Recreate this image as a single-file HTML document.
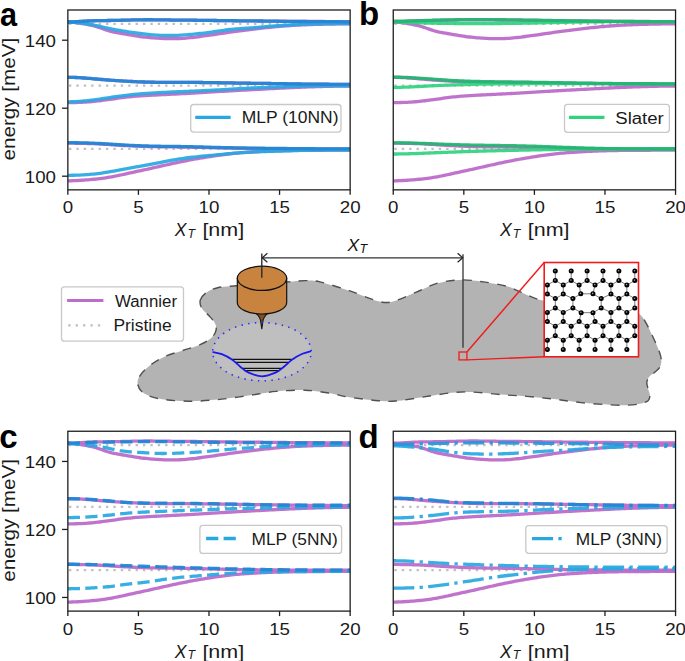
<!DOCTYPE html><html><head><meta charset="utf-8"><style>html,body{margin:0;padding:0;background:#fff;overflow:hidden;}svg{display:block;}.tk{font-family:"Liberation Sans", sans-serif;font-size:15.6px;fill:#1a1a1a;} .al{font-family:"Liberation Sans", sans-serif;font-size:17.6px;fill:#1a1a1a;} .lg{font-family:"Liberation Sans", sans-serif;font-size:15.6px;fill:#1a1a1a;} .pl{font-family:"Liberation Sans", sans-serif;font-size:33px;font-weight:bold;fill:#000;} .dg{font-family:"Liberation Sans", sans-serif;font-size:16.5px;fill:#111;}</style></head><body>
<svg width="685" height="661" viewBox="0 0 685 661">
<defs><clipPath id="ca"><rect x="67.85" y="10.00" width="282.30" height="179.85"/></clipPath></defs>
<rect width="685" height="661" fill="#fff"/>
<g transform="translate(0.00,0.00)">
<g clip-path="url(#ca)">
<line x1="67.85" y1="23.90" x2="350.15" y2="23.90" stroke="#c0c0c0" stroke-width="2.4" stroke-dasharray="2.4 5.0" stroke-dashoffset="-1.1"/>
<line x1="67.85" y1="85.60" x2="350.15" y2="85.60" stroke="#c0c0c0" stroke-width="2.4" stroke-dasharray="2.4 5.0" stroke-dashoffset="-1.1"/>
<line x1="67.85" y1="148.90" x2="350.15" y2="148.90" stroke="#c0c0c0" stroke-width="2.4" stroke-dasharray="2.4 5.0" stroke-dashoffset="-1.1"/>
<path d="M67.8,22.00L69.9,21.98L71.9,21.93L73.9,21.85L75.9,21.75L77.9,21.63L79.9,21.51L81.9,21.37L83.9,21.24L85.9,21.11L87.9,21.00L89.9,20.90L91.9,20.82L93.9,20.75L95.9,20.69L97.9,20.65L99.9,20.61L101.9,20.58L103.9,20.55L105.9,20.53L107.9,20.51L109.9,20.49L111.9,20.46L113.9,20.43L115.9,20.40L117.9,20.36L119.9,20.31L121.9,20.26L123.9,20.20L125.9,20.14L127.9,20.09L129.9,20.03L131.9,19.97L133.9,19.92L135.9,19.87L137.9,19.83L139.9,19.80L141.9,19.78L143.9,19.76L145.9,19.75L147.9,19.75L149.9,19.76L151.9,19.77L153.9,19.79L155.9,19.81L157.9,19.83L159.9,19.86L161.9,19.89L164.0,19.91L166.0,19.94L168.0,19.97L170.0,20.00L172.0,20.03L174.0,20.05L176.0,20.07L178.0,20.09L180.0,20.11L182.0,20.13L184.0,20.15L186.0,20.17L188.0,20.18L190.0,20.20L192.0,20.22L194.0,20.24L196.0,20.26L198.0,20.28L200.0,20.30L202.0,20.32L204.0,20.35L206.0,20.37L208.0,20.40L210.0,20.43L212.0,20.45L214.0,20.48L216.0,20.51L218.0,20.54L220.0,20.57L222.0,20.59L224.0,20.62L226.0,20.65L228.0,20.67L230.0,20.70L232.0,20.72L234.0,20.75L236.0,20.77L238.0,20.79L240.0,20.81L242.0,20.83L244.0,20.85L246.0,20.87L248.0,20.89L250.0,20.91L252.0,20.92L254.0,20.94L256.0,20.96L258.1,20.98L260.1,21.00L262.1,21.02L264.1,21.04L266.1,21.06L268.1,21.08L270.1,21.10L272.1,21.12L274.1,21.14L276.1,21.16L278.1,21.18L280.1,21.21L282.1,21.23L284.1,21.24L286.1,21.26L288.1,21.28L290.1,21.30L292.1,21.32L294.1,21.33L296.1,21.35L298.1,21.36L300.1,21.38L302.1,21.39L304.1,21.41L306.1,21.42L308.1,21.43L310.1,21.44L312.1,21.46L314.1,21.47L316.1,21.48L318.1,21.49L320.1,21.50L322.1,21.51L324.1,21.52L326.1,21.53L328.1,21.54L330.1,21.55L332.1,21.56L334.1,21.57L336.1,21.57L338.1,21.58L340.1,21.59L342.1,21.59L344.1,21.59L346.1,21.60L348.1,21.60L350.1,21.60" fill="none" stroke="#bc6cc9" stroke-width="3.30" stroke-linejoin="round" stroke-linecap="butt" stroke-opacity="0.95"/>
<path d="M67.8,22.20L69.9,22.23L71.9,22.32L73.9,22.47L75.9,22.66L77.9,22.90L79.9,23.18L81.9,23.50L83.9,23.84L85.9,24.21L87.9,24.60L89.9,25.01L91.9,25.44L93.9,25.93L95.9,26.49L97.9,27.11L99.9,27.78L101.9,28.48L103.9,29.18L105.9,29.86L107.9,30.50L109.9,31.08L111.9,31.59L113.9,32.05L115.9,32.45L117.9,32.82L119.9,33.17L121.9,33.50L123.9,33.83L125.9,34.17L127.9,34.52L129.9,34.87L131.9,35.22L133.9,35.56L135.9,35.89L137.9,36.21L139.9,36.50L141.9,36.77L143.9,37.01L145.9,37.23L147.9,37.43L149.9,37.61L151.9,37.77L153.9,37.93L155.9,38.07L157.9,38.21L159.9,38.33L161.9,38.44L164.0,38.53L166.0,38.61L168.0,38.66L170.0,38.70L172.0,38.71L174.0,38.70L176.0,38.66L178.0,38.60L180.0,38.52L182.0,38.41L184.0,38.28L186.0,38.12L188.0,37.93L190.0,37.73L192.0,37.51L194.0,37.27L196.0,37.02L198.0,36.76L200.0,36.50L202.0,36.23L204.0,35.96L206.0,35.69L208.0,35.41L210.0,35.12L212.0,34.84L214.0,34.55L216.0,34.25L218.0,33.95L220.0,33.65L222.0,33.35L224.0,33.06L226.0,32.76L228.0,32.48L230.0,32.20L232.0,31.93L234.0,31.67L236.0,31.42L238.0,31.17L240.0,30.92L242.0,30.67L244.0,30.43L246.0,30.17L248.0,29.92L250.0,29.66L252.0,29.41L254.0,29.15L256.0,28.90L258.1,28.65L260.1,28.41L262.1,28.18L264.1,27.95L266.1,27.72L268.1,27.51L270.1,27.30L272.1,27.09L274.1,26.90L276.1,26.71L278.1,26.53L280.1,26.36L282.1,26.20L284.1,26.04L286.1,25.89L288.1,25.74L290.1,25.60L292.1,25.47L294.1,25.34L296.1,25.22L298.1,25.11L300.1,25.00L302.1,24.90L304.1,24.81L306.1,24.73L308.1,24.66L310.1,24.59L312.1,24.52L314.1,24.46L316.1,24.40L318.1,24.35L320.1,24.30L322.1,24.25L324.1,24.20L326.1,24.15L328.1,24.11L330.1,24.06L332.1,24.02L334.1,23.98L336.1,23.94L338.1,23.91L340.1,23.88L342.1,23.85L344.1,23.83L346.1,23.81L348.1,23.80L350.1,23.80" fill="none" stroke="#bc6cc9" stroke-width="3.30" stroke-linejoin="round" stroke-linecap="butt" stroke-opacity="0.95"/>
<path d="M67.8,77.30L69.9,77.31L71.9,77.35L73.9,77.41L75.9,77.50L77.9,77.60L79.9,77.72L81.9,77.85L83.9,77.99L85.9,78.15L87.9,78.31L89.9,78.48L91.9,78.65L93.9,78.83L95.9,79.00L97.9,79.17L99.9,79.34L101.9,79.51L103.9,79.67L105.9,79.83L107.9,79.98L109.9,80.14L111.9,80.28L113.9,80.43L115.9,80.57L117.9,80.70L119.9,80.83L121.9,80.96L123.9,81.08L125.9,81.20L127.9,81.31L129.9,81.42L131.9,81.52L133.9,81.61L135.9,81.71L137.9,81.79L139.9,81.87L141.9,81.94L143.9,82.01L145.9,82.07L147.9,82.13L149.9,82.18L151.9,82.23L153.9,82.27L155.9,82.30L157.9,82.33L159.9,82.35L161.9,82.37L164.0,82.38L166.0,82.39L168.0,82.39L170.0,82.40L172.0,82.40L174.0,82.40L176.0,82.40L178.0,82.40L180.0,82.40L182.0,82.40L184.0,82.40L186.0,82.40L188.0,82.41L190.0,82.41L192.0,82.42L194.0,82.44L196.0,82.45L198.0,82.47L200.0,82.49L202.0,82.51L204.0,82.53L206.0,82.56L208.0,82.58L210.0,82.61L212.0,82.64L214.0,82.67L216.0,82.70L218.0,82.73L220.0,82.76L222.0,82.80L224.0,82.83L226.0,82.87L228.0,82.90L230.0,82.94L232.0,82.97L234.0,83.01L236.0,83.04L238.0,83.07L240.0,83.11L242.0,83.14L244.0,83.17L246.0,83.20L248.0,83.23L250.0,83.26L252.0,83.28L254.0,83.31L256.0,83.33L258.1,83.36L260.1,83.38L262.1,83.41L264.1,83.43L266.1,83.46L268.1,83.49L270.1,83.51L272.1,83.54L274.1,83.57L276.1,83.60L278.1,83.63L280.1,83.67L282.1,83.70L284.1,83.73L286.1,83.77L288.1,83.81L290.1,83.84L292.1,83.88L294.1,83.91L296.1,83.95L298.1,83.98L300.1,84.01L302.1,84.04L304.1,84.07L306.1,84.10L308.1,84.12L310.1,84.15L312.1,84.17L314.1,84.19L316.1,84.20L318.1,84.22L320.1,84.23L322.1,84.24L324.1,84.25L326.1,84.26L328.1,84.27L330.1,84.28L332.1,84.28L334.1,84.29L336.1,84.29L338.1,84.29L340.1,84.30L342.1,84.30L344.1,84.30L346.1,84.30L348.1,84.30L350.1,84.30" fill="none" stroke="#bc6cc9" stroke-width="3.30" stroke-linejoin="round" stroke-linecap="butt" stroke-opacity="0.95"/>
<path d="M67.8,102.60L69.9,102.59L71.9,102.58L73.9,102.54L75.9,102.50L77.9,102.44L79.9,102.36L81.9,102.28L83.9,102.17L85.9,102.05L87.9,101.92L89.9,101.76L91.9,101.59L93.9,101.41L95.9,101.20L97.9,100.98L99.9,100.74L101.9,100.48L103.9,100.22L105.9,99.94L107.9,99.66L109.9,99.38L111.9,99.09L113.9,98.80L115.9,98.51L117.9,98.23L119.9,97.96L121.9,97.69L123.9,97.44L125.9,97.20L127.9,96.98L129.9,96.77L131.9,96.57L133.9,96.39L135.9,96.23L137.9,96.07L139.9,95.92L141.9,95.79L143.9,95.66L145.9,95.53L147.9,95.42L149.9,95.31L151.9,95.20L153.9,95.10L155.9,95.00L157.9,94.90L159.9,94.80L161.9,94.71L164.0,94.61L166.0,94.51L168.0,94.42L170.0,94.32L172.0,94.22L174.0,94.12L176.0,94.02L178.0,93.92L180.0,93.82L182.0,93.72L184.0,93.61L186.0,93.50L188.0,93.39L190.0,93.28L192.0,93.16L194.0,93.04L196.0,92.92L198.0,92.80L200.0,92.68L202.0,92.56L204.0,92.43L206.0,92.31L208.0,92.19L210.0,92.07L212.0,91.94L214.0,91.82L216.0,91.70L218.0,91.58L220.0,91.46L222.0,91.34L224.0,91.23L226.0,91.11L228.0,91.00L230.0,90.89L232.0,90.77L234.0,90.66L236.0,90.55L238.0,90.44L240.0,90.33L242.0,90.22L244.0,90.11L246.0,90.00L248.0,89.89L250.0,89.78L252.0,89.67L254.0,89.57L256.0,89.46L258.1,89.35L260.1,89.24L262.1,89.14L264.1,89.03L266.1,88.93L268.1,88.82L270.1,88.71L272.1,88.61L274.1,88.50L276.1,88.40L278.1,88.30L280.1,88.19L282.1,88.09L284.1,87.99L286.1,87.89L288.1,87.79L290.1,87.69L292.1,87.60L294.1,87.50L296.1,87.41L298.1,87.32L300.1,87.24L302.1,87.16L304.1,87.08L306.1,87.00L308.1,86.93L310.1,86.86L312.1,86.79L314.1,86.73L316.1,86.67L318.1,86.61L320.1,86.55L322.1,86.50L324.1,86.45L326.1,86.40L328.1,86.35L330.1,86.30L332.1,86.25L334.1,86.21L336.1,86.17L338.1,86.13L340.1,86.09L342.1,86.06L344.1,86.03L346.1,86.02L348.1,86.00L350.1,86.00" fill="none" stroke="#bc6cc9" stroke-width="3.30" stroke-linejoin="round" stroke-linecap="butt" stroke-opacity="0.95"/>
<path d="M67.8,143.20L69.9,143.20L71.9,143.21L73.9,143.22L75.9,143.24L77.9,143.27L79.9,143.30L81.9,143.34L83.9,143.38L85.9,143.43L87.9,143.49L89.9,143.56L91.9,143.63L93.9,143.71L95.9,143.80L97.9,143.90L99.9,144.00L101.9,144.11L103.9,144.23L105.9,144.35L107.9,144.47L109.9,144.60L111.9,144.73L113.9,144.86L115.9,144.99L117.9,145.12L119.9,145.24L121.9,145.37L123.9,145.49L125.9,145.60L127.9,145.71L129.9,145.81L131.9,145.91L133.9,146.00L135.9,146.09L137.9,146.17L139.9,146.25L141.9,146.32L143.9,146.39L145.9,146.45L147.9,146.51L149.9,146.56L151.9,146.61L153.9,146.66L155.9,146.70L157.9,146.74L159.9,146.77L161.9,146.80L164.0,146.83L166.0,146.85L168.0,146.88L170.0,146.90L172.0,146.92L174.0,146.94L176.0,146.97L178.0,146.99L180.0,147.01L182.0,147.04L184.0,147.07L186.0,147.10L188.0,147.13L190.0,147.17L192.0,147.21L194.0,147.25L196.0,147.30L198.0,147.35L200.0,147.39L202.0,147.44L204.0,147.49L206.0,147.54L208.0,147.60L210.0,147.65L212.0,147.70L214.0,147.75L216.0,147.80L218.0,147.85L220.0,147.90L222.0,147.94L224.0,147.99L226.0,148.03L228.0,148.08L230.0,148.12L232.0,148.16L234.0,148.20L236.0,148.24L238.0,148.27L240.0,148.31L242.0,148.34L244.0,148.37L246.0,148.40L248.0,148.43L250.0,148.45L252.0,148.48L254.0,148.50L256.0,148.52L258.1,148.55L260.1,148.57L262.1,148.58L264.1,148.60L266.1,148.62L268.1,148.64L270.1,148.65L272.1,148.67L274.1,148.68L276.1,148.70L278.1,148.72L280.1,148.73L282.1,148.75L284.1,148.76L286.1,148.77L288.1,148.79L290.1,148.80L292.1,148.82L294.1,148.83L296.1,148.84L298.1,148.86L300.1,148.87L302.1,148.88L304.1,148.89L306.1,148.90L308.1,148.91L310.1,148.92L312.1,148.93L314.1,148.94L316.1,148.94L318.1,148.95L320.1,148.96L322.1,148.96L324.1,148.97L326.1,148.97L328.1,148.98L330.1,148.98L332.1,148.99L334.1,148.99L336.1,148.99L338.1,148.99L340.1,149.00L342.1,149.00L344.1,149.00L346.1,149.00L348.1,149.00L350.1,149.00" fill="none" stroke="#bc6cc9" stroke-width="3.30" stroke-linejoin="round" stroke-linecap="butt" stroke-opacity="0.95"/>
<path d="M67.8,180.80L69.9,180.79L71.9,180.75L73.9,180.69L75.9,180.61L77.9,180.51L79.9,180.40L81.9,180.26L83.9,180.12L85.9,179.97L87.9,179.80L89.9,179.63L91.9,179.44L93.9,179.25L95.9,179.04L97.9,178.82L99.9,178.59L101.9,178.34L103.9,178.07L105.9,177.78L107.9,177.46L109.9,177.13L111.9,176.77L113.9,176.40L115.9,176.00L117.9,175.59L119.9,175.17L121.9,174.74L123.9,174.30L125.9,173.86L127.9,173.42L129.9,172.98L131.9,172.54L133.9,172.10L135.9,171.67L137.9,171.23L139.9,170.80L141.9,170.36L143.9,169.92L145.9,169.49L147.9,169.04L149.9,168.60L151.9,168.15L153.9,167.70L155.9,167.25L157.9,166.80L159.9,166.34L161.9,165.89L164.0,165.44L166.0,164.99L168.0,164.54L170.0,164.10L172.0,163.66L174.0,163.23L176.0,162.80L178.0,162.38L180.0,161.97L182.0,161.56L184.0,161.15L186.0,160.76L188.0,160.37L190.0,159.99L192.0,159.61L194.0,159.25L196.0,158.89L198.0,158.54L200.0,158.19L202.0,157.85L204.0,157.52L206.0,157.19L208.0,156.87L210.0,156.56L212.0,156.25L214.0,155.94L216.0,155.64L218.0,155.35L220.0,155.07L222.0,154.80L224.0,154.53L226.0,154.28L228.0,154.04L230.0,153.81L232.0,153.59L234.0,153.39L236.0,153.20L238.0,153.02L240.0,152.85L242.0,152.69L244.0,152.54L246.0,152.39L248.0,152.26L250.0,152.13L252.0,152.00L254.0,151.88L256.0,151.76L258.1,151.65L260.1,151.54L262.1,151.44L264.1,151.34L266.1,151.25L268.1,151.16L270.1,151.08L272.1,151.00L274.1,150.93L276.1,150.86L278.1,150.80L280.1,150.75L282.1,150.70L284.1,150.65L286.1,150.61L288.1,150.57L290.1,150.53L292.1,150.50L294.1,150.47L296.1,150.45L298.1,150.42L300.1,150.40L302.1,150.38L304.1,150.36L306.1,150.35L308.1,150.33L310.1,150.32L312.1,150.30L314.1,150.29L316.1,150.28L318.1,150.27L320.1,150.26L322.1,150.25L324.1,150.24L326.1,150.22L328.1,150.21L330.1,150.20L332.1,150.19L334.1,150.17L336.1,150.16L338.1,150.15L340.1,150.13L342.1,150.12L344.1,150.11L346.1,150.11L348.1,150.10L350.1,150.10" fill="none" stroke="#bc6cc9" stroke-width="3.30" stroke-linejoin="round" stroke-linecap="butt" stroke-opacity="0.95"/>
<path d="M67.8,22.20L69.9,22.22L71.9,22.29L73.9,22.39L75.9,22.53L77.9,22.70L79.9,22.90L81.9,23.14L83.9,23.40L85.9,23.68L87.9,24.00L89.9,24.34L91.9,24.71L93.9,25.10L95.9,25.51L97.9,25.94L99.9,26.39L101.9,26.84L103.9,27.30L105.9,27.75L107.9,28.19L109.9,28.61L111.9,29.01L113.9,29.40L115.9,29.77L117.9,30.13L119.9,30.47L121.9,30.81L123.9,31.14L125.9,31.46L127.9,31.78L129.9,32.09L131.9,32.39L133.9,32.68L135.9,32.97L137.9,33.24L139.9,33.50L141.9,33.75L143.9,33.98L145.9,34.20L147.9,34.41L149.9,34.60L151.9,34.77L153.9,34.93L155.9,35.07L157.9,35.19L159.9,35.29L161.9,35.37L164.0,35.43L166.0,35.48L168.0,35.50L170.0,35.50L172.0,35.48L174.0,35.44L176.0,35.38L178.0,35.30L180.0,35.21L182.0,35.10L184.0,34.97L186.0,34.83L188.0,34.67L190.0,34.50L192.0,34.32L194.0,34.13L196.0,33.93L198.0,33.72L200.0,33.50L202.0,33.27L204.0,33.04L206.0,32.80L208.0,32.55L210.0,32.29L212.0,32.02L214.0,31.74L216.0,31.45L218.0,31.16L220.0,30.86L222.0,30.56L224.0,30.27L226.0,30.00L228.0,29.74L230.0,29.50L232.0,29.29L234.0,29.10L236.0,28.93L238.0,28.78L240.0,28.63L242.0,28.50L244.0,28.37L246.0,28.23L248.0,28.10L250.0,27.95L252.0,27.81L254.0,27.66L256.0,27.50L258.1,27.34L260.1,27.17L262.1,26.99L264.1,26.82L266.1,26.65L268.1,26.48L270.1,26.31L272.1,26.15L274.1,26.00L276.1,25.86L278.1,25.72L280.1,25.60L282.1,25.48L284.1,25.36L286.1,25.24L288.1,25.12L290.1,25.00L292.1,24.88L294.1,24.75L296.1,24.63L298.1,24.51L300.1,24.40L302.1,24.30L304.1,24.21L306.1,24.13L308.1,24.06L310.1,23.99L312.1,23.94L314.1,23.88L316.1,23.84L318.1,23.80L320.1,23.76L322.1,23.73L324.1,23.70L326.1,23.67L328.1,23.65L330.1,23.62L332.1,23.60L334.1,23.58L336.1,23.56L338.1,23.54L340.1,23.53L342.1,23.52L344.1,23.51L346.1,23.51L348.1,23.50L350.1,23.50" fill="none" stroke="#27a8e1" stroke-width="3.30" stroke-linejoin="round" stroke-linecap="butt" stroke-opacity="0.92"/>
<path d="M67.8,101.80L69.9,101.79L71.9,101.74L73.9,101.68L75.9,101.58L77.9,101.47L79.9,101.33L81.9,101.17L83.9,101.00L85.9,100.80L87.9,100.59L89.9,100.36L91.9,100.12L93.9,99.87L95.9,99.60L97.9,99.32L99.9,99.04L101.9,98.75L103.9,98.45L105.9,98.16L107.9,97.85L109.9,97.55L111.9,97.25L113.9,96.95L115.9,96.66L117.9,96.37L119.9,96.09L121.9,95.81L123.9,95.55L125.9,95.30L127.9,95.06L129.9,94.84L131.9,94.63L133.9,94.42L135.9,94.23L137.9,94.06L139.9,93.89L141.9,93.72L143.9,93.57L145.9,93.43L147.9,93.29L149.9,93.16L151.9,93.03L153.9,92.91L155.9,92.80L157.9,92.69L159.9,92.58L161.9,92.48L164.0,92.38L166.0,92.28L168.0,92.19L170.0,92.09L172.0,92.00L174.0,91.91L176.0,91.83L178.0,91.74L180.0,91.65L182.0,91.57L184.0,91.48L186.0,91.40L188.0,91.32L190.0,91.23L192.0,91.14L194.0,91.06L196.0,90.97L198.0,90.88L200.0,90.79L202.0,90.70L204.0,90.61L206.0,90.51L208.0,90.41L210.0,90.31L212.0,90.21L214.0,90.11L216.0,90.00L218.0,89.89L220.0,89.78L222.0,89.66L224.0,89.54L226.0,89.43L228.0,89.31L230.0,89.19L232.0,89.07L234.0,88.95L236.0,88.84L238.0,88.73L240.0,88.61L242.0,88.51L244.0,88.40L246.0,88.30L248.0,88.20L250.0,88.11L252.0,88.02L254.0,87.94L256.0,87.85L258.1,87.77L260.1,87.70L262.1,87.62L264.1,87.54L266.1,87.47L268.1,87.40L270.1,87.32L272.1,87.25L274.1,87.18L276.1,87.10L278.1,87.02L280.1,86.95L282.1,86.87L284.1,86.79L286.1,86.72L288.1,86.64L290.1,86.57L292.1,86.49L294.1,86.43L296.1,86.36L298.1,86.30L300.1,86.24L302.1,86.19L304.1,86.14L306.1,86.10L308.1,86.06L310.1,86.03L312.1,86.01L314.1,85.99L316.1,85.97L318.1,85.96L320.1,85.95L322.1,85.94L324.1,85.93L326.1,85.92L328.1,85.91L330.1,85.90L332.1,85.89L334.1,85.88L336.1,85.86L338.1,85.85L340.1,85.84L342.1,85.82L344.1,85.81L346.1,85.81L348.1,85.80L350.1,85.80" fill="none" stroke="#27a8e1" stroke-width="3.30" stroke-linejoin="round" stroke-linecap="butt" stroke-opacity="0.92"/>
<path d="M67.8,175.30L69.9,175.29L71.9,175.27L73.9,175.24L75.9,175.19L77.9,175.13L79.9,175.06L81.9,174.96L83.9,174.85L85.9,174.72L87.9,174.58L89.9,174.41L91.9,174.23L93.9,174.02L95.9,173.80L97.9,173.55L99.9,173.29L101.9,173.01L103.9,172.71L105.9,172.39L107.9,172.06L109.9,171.73L111.9,171.38L113.9,171.02L115.9,170.66L117.9,170.29L119.9,169.92L121.9,169.54L123.9,169.17L125.9,168.80L127.9,168.43L129.9,168.07L131.9,167.70L133.9,167.34L135.9,166.98L137.9,166.62L139.9,166.26L141.9,165.90L143.9,165.54L145.9,165.17L147.9,164.81L149.9,164.44L151.9,164.06L153.9,163.68L155.9,163.30L157.9,162.91L159.9,162.52L161.9,162.13L164.0,161.73L166.0,161.34L168.0,160.96L170.0,160.58L172.0,160.22L174.0,159.86L176.0,159.52L178.0,159.19L180.0,158.87L182.0,158.57L184.0,158.28L186.0,158.00L188.0,157.74L190.0,157.49L192.0,157.25L194.0,157.03L196.0,156.81L198.0,156.60L200.0,156.40L202.0,156.20L204.0,156.01L206.0,155.82L208.0,155.64L210.0,155.45L212.0,155.27L214.0,155.09L216.0,154.90L218.0,154.71L220.0,154.52L222.0,154.33L224.0,154.14L226.0,153.95L228.0,153.76L230.0,153.57L232.0,153.39L234.0,153.21L236.0,153.04L238.0,152.87L240.0,152.72L242.0,152.57L244.0,152.43L246.0,152.30L248.0,152.18L250.0,152.08L252.0,151.98L254.0,151.89L256.0,151.81L258.1,151.73L260.1,151.66L262.1,151.60L264.1,151.54L266.1,151.48L268.1,151.43L270.1,151.37L272.1,151.31L274.1,151.26L276.1,151.20L278.1,151.14L280.1,151.08L282.1,151.01L284.1,150.94L286.1,150.88L288.1,150.81L290.1,150.74L292.1,150.68L294.1,150.61L296.1,150.55L298.1,150.49L300.1,150.44L302.1,150.39L304.1,150.34L306.1,150.30L308.1,150.27L310.1,150.24L312.1,150.21L314.1,150.19L316.1,150.17L318.1,150.16L320.1,150.15L322.1,150.14L324.1,150.13L326.1,150.12L328.1,150.11L330.1,150.10L332.1,150.09L334.1,150.08L336.1,150.06L338.1,150.05L340.1,150.04L342.1,150.02L344.1,150.01L346.1,150.01L348.1,150.00L350.1,150.00" fill="none" stroke="#27a8e1" stroke-width="3.30" stroke-linejoin="round" stroke-linecap="butt" stroke-opacity="0.92"/>
<path d="M67.8,22.00L69.9,21.98L71.9,21.93L73.9,21.85L75.9,21.75L77.9,21.63L79.9,21.51L81.9,21.37L83.9,21.24L85.9,21.11L87.9,21.00L89.9,20.90L91.9,20.82L93.9,20.75L95.9,20.69L97.9,20.65L99.9,20.61L101.9,20.58L103.9,20.55L105.9,20.53L107.9,20.51L109.9,20.49L111.9,20.46L113.9,20.43L115.9,20.40L117.9,20.36L119.9,20.31L121.9,20.26L123.9,20.20L125.9,20.14L127.9,20.09L129.9,20.03L131.9,19.97L133.9,19.92L135.9,19.87L137.9,19.83L139.9,19.80L141.9,19.78L143.9,19.76L145.9,19.75L147.9,19.75L149.9,19.76L151.9,19.77L153.9,19.79L155.9,19.81L157.9,19.83L159.9,19.86L161.9,19.89L164.0,19.92L166.0,19.94L168.0,19.97L170.0,20.00L172.0,20.03L174.0,20.05L176.0,20.07L178.0,20.09L180.0,20.11L182.0,20.13L184.0,20.15L186.0,20.17L188.0,20.18L190.0,20.20L192.0,20.22L194.0,20.24L196.0,20.26L198.0,20.28L200.0,20.30L202.0,20.32L204.0,20.35L206.0,20.37L208.0,20.40L210.0,20.43L212.0,20.46L214.0,20.48L216.0,20.51L218.0,20.54L220.0,20.57L222.0,20.60L224.0,20.62L226.0,20.65L228.0,20.68L230.0,20.70L232.0,20.72L234.0,20.74L236.0,20.76L238.0,20.78L240.0,20.80L242.0,20.82L244.0,20.84L246.0,20.86L248.0,20.88L250.0,20.89L252.0,20.91L254.0,20.93L256.0,20.95L258.1,20.98L260.1,21.00L262.1,21.02L264.1,21.05L266.1,21.08L268.1,21.11L270.1,21.13L272.1,21.16L274.1,21.19L276.1,21.22L278.1,21.25L280.1,21.28L282.1,21.31L284.1,21.33L286.1,21.36L288.1,21.38L290.1,21.40L292.1,21.42L294.1,21.44L296.1,21.45L298.1,21.47L300.1,21.48L302.1,21.49L304.1,21.50L306.1,21.52L308.1,21.53L310.1,21.54L312.1,21.55L314.1,21.56L316.1,21.57L318.1,21.59L320.1,21.60L322.1,21.62L324.1,21.63L326.1,21.65L328.1,21.67L330.1,21.69L332.1,21.70L334.1,21.72L336.1,21.74L338.1,21.75L340.1,21.76L342.1,21.78L344.1,21.79L346.1,21.79L348.1,21.80L350.1,21.80" fill="none" stroke="#1d88d6" stroke-width="3.30" stroke-linejoin="round" stroke-linecap="butt" stroke-opacity="0.92"/>
<path d="M67.8,77.30L69.9,77.31L71.9,77.35L73.9,77.41L75.9,77.50L77.9,77.60L79.9,77.72L81.9,77.85L83.9,77.99L85.9,78.15L87.9,78.31L89.9,78.48L91.9,78.65L93.9,78.83L95.9,79.00L97.9,79.17L99.9,79.34L101.9,79.51L103.9,79.67L105.9,79.83L107.9,79.98L109.9,80.14L111.9,80.28L113.9,80.43L115.9,80.57L117.9,80.70L119.9,80.83L121.9,80.96L123.9,81.08L125.9,81.20L127.9,81.31L129.9,81.42L131.9,81.52L133.9,81.61L135.9,81.71L137.9,81.79L139.9,81.87L141.9,81.94L143.9,82.01L145.9,82.07L147.9,82.13L149.9,82.18L151.9,82.23L153.9,82.27L155.9,82.30L157.9,82.33L159.9,82.35L161.9,82.37L164.0,82.38L166.0,82.39L168.0,82.39L170.0,82.40L172.0,82.40L174.0,82.40L176.0,82.40L178.0,82.40L180.0,82.40L182.0,82.40L184.0,82.40L186.0,82.40L188.0,82.41L190.0,82.41L192.0,82.42L194.0,82.44L196.0,82.45L198.0,82.47L200.0,82.49L202.0,82.51L204.0,82.53L206.0,82.56L208.0,82.58L210.0,82.61L212.0,82.64L214.0,82.67L216.0,82.70L218.0,82.73L220.0,82.76L222.0,82.80L224.0,82.83L226.0,82.87L228.0,82.90L230.0,82.94L232.0,82.97L234.0,83.01L236.0,83.04L238.0,83.07L240.0,83.11L242.0,83.14L244.0,83.17L246.0,83.20L248.0,83.23L250.0,83.26L252.0,83.28L254.0,83.31L256.0,83.33L258.1,83.36L260.1,83.38L262.1,83.41L264.1,83.43L266.1,83.46L268.1,83.49L270.1,83.51L272.1,83.54L274.1,83.57L276.1,83.60L278.1,83.63L280.1,83.67L282.1,83.70L284.1,83.73L286.1,83.77L288.1,83.81L290.1,83.84L292.1,83.88L294.1,83.91L296.1,83.95L298.1,83.98L300.1,84.01L302.1,84.04L304.1,84.07L306.1,84.10L308.1,84.12L310.1,84.15L312.1,84.17L314.1,84.19L316.1,84.20L318.1,84.22L320.1,84.23L322.1,84.24L324.1,84.25L326.1,84.26L328.1,84.27L330.1,84.28L332.1,84.28L334.1,84.29L336.1,84.29L338.1,84.29L340.1,84.30L342.1,84.30L344.1,84.30L346.1,84.30L348.1,84.30L350.1,84.30" fill="none" stroke="#1d88d6" stroke-width="3.30" stroke-linejoin="round" stroke-linecap="butt" stroke-opacity="0.92"/>
<path d="M67.8,142.70L69.9,142.70L71.9,142.71L73.9,142.72L75.9,142.74L77.9,142.77L79.9,142.80L81.9,142.84L83.9,142.88L85.9,142.93L87.9,142.99L89.9,143.06L91.9,143.13L93.9,143.21L95.9,143.30L97.9,143.40L99.9,143.50L101.9,143.61L103.9,143.73L105.9,143.85L107.9,143.97L109.9,144.10L111.9,144.23L113.9,144.36L115.9,144.49L117.9,144.62L119.9,144.74L121.9,144.87L123.9,144.98L125.9,145.10L127.9,145.21L129.9,145.31L131.9,145.41L133.9,145.51L135.9,145.59L137.9,145.68L139.9,145.75L141.9,145.83L143.9,145.89L145.9,145.96L147.9,146.01L149.9,146.07L151.9,146.12L153.9,146.16L155.9,146.20L157.9,146.24L159.9,146.27L161.9,146.30L164.0,146.32L166.0,146.35L168.0,146.37L170.0,146.39L172.0,146.41L174.0,146.43L176.0,146.45L178.0,146.48L180.0,146.50L182.0,146.53L184.0,146.56L186.0,146.60L188.0,146.64L190.0,146.68L192.0,146.73L194.0,146.78L196.0,146.83L198.0,146.89L200.0,146.94L202.0,147.00L204.0,147.06L206.0,147.12L208.0,147.18L210.0,147.23L212.0,147.29L214.0,147.35L216.0,147.40L218.0,147.45L220.0,147.50L222.0,147.55L224.0,147.59L226.0,147.64L228.0,147.68L230.0,147.72L232.0,147.76L234.0,147.80L236.0,147.83L238.0,147.87L240.0,147.90L242.0,147.94L244.0,147.97L246.0,148.00L248.0,148.03L250.0,148.06L252.0,148.09L254.0,148.12L256.0,148.15L258.1,148.17L260.1,148.20L262.1,148.23L264.1,148.25L266.1,148.28L268.1,148.30L270.1,148.33L272.1,148.35L274.1,148.38L276.1,148.40L278.1,148.42L280.1,148.45L282.1,148.47L284.1,148.49L286.1,148.51L288.1,148.53L290.1,148.55L292.1,148.57L294.1,148.59L296.1,148.61L298.1,148.63L300.1,148.65L302.1,148.67L304.1,148.68L306.1,148.70L308.1,148.72L310.1,148.73L312.1,148.75L314.1,148.76L316.1,148.78L318.1,148.79L320.1,148.80L322.1,148.81L324.1,148.82L326.1,148.84L328.1,148.85L330.1,148.85L332.1,148.86L334.1,148.87L336.1,148.88L338.1,148.88L340.1,148.89L342.1,148.89L344.1,148.90L346.1,148.90L348.1,148.90L350.1,148.90" fill="none" stroke="#1d88d6" stroke-width="3.30" stroke-linejoin="round" stroke-linecap="butt" stroke-opacity="0.92"/>
</g>
<rect x="67.85" y="10.00" width="282.30" height="179.85" fill="none" stroke="#1e1e1e" stroke-width="1.3"/>
<line x1="67.85" y1="189.85" x2="67.85" y2="194.85" stroke="#1e1e1e" stroke-width="1.3"/>
<line x1="138.42" y1="189.85" x2="138.42" y2="194.85" stroke="#1e1e1e" stroke-width="1.3"/>
<line x1="209.00" y1="189.85" x2="209.00" y2="194.85" stroke="#1e1e1e" stroke-width="1.3"/>
<line x1="279.57" y1="189.85" x2="279.57" y2="194.85" stroke="#1e1e1e" stroke-width="1.3"/>
<line x1="350.15" y1="189.85" x2="350.15" y2="194.85" stroke="#1e1e1e" stroke-width="1.3"/>
<line x1="62.05" y1="176.20" x2="67.85" y2="176.20" stroke="#1e1e1e" stroke-width="1.3"/>
<line x1="62.05" y1="108.20" x2="67.85" y2="108.20" stroke="#1e1e1e" stroke-width="1.3"/>
<line x1="62.05" y1="40.20" x2="67.85" y2="40.20" stroke="#1e1e1e" stroke-width="1.3"/>
<text transform="translate(67.85,213.4) scale(1.200,1)" text-anchor="middle" class="tk">0</text>
<text transform="translate(138.42,213.4) scale(1.200,1)" text-anchor="middle" class="tk">5</text>
<text transform="translate(209.00,213.4) scale(1.200,1)" text-anchor="middle" class="tk">10</text>
<text transform="translate(279.57,213.4) scale(1.200,1)" text-anchor="middle" class="tk">15</text>
<text transform="translate(350.15,213.4) scale(1.200,1)" text-anchor="middle" class="tk">20</text>
<text x="174.70" y="236.4" class="al" style="font-style:italic">X</text>
<text x="187.40" y="238.1" class="al" style="font-style:italic;font-size:12.4px">T</text>
<text transform="translate(202.40,236.4) scale(1.22,1)" class="al">[nm]</text>
</g>
<g transform="translate(325.40,0.00)">
<g clip-path="url(#ca)">
<line x1="67.85" y1="23.90" x2="350.15" y2="23.90" stroke="#c0c0c0" stroke-width="2.4" stroke-dasharray="2.4 5.0" stroke-dashoffset="-1.1"/>
<line x1="67.85" y1="85.60" x2="350.15" y2="85.60" stroke="#c0c0c0" stroke-width="2.4" stroke-dasharray="2.4 5.0" stroke-dashoffset="-1.1"/>
<line x1="67.85" y1="148.90" x2="350.15" y2="148.90" stroke="#c0c0c0" stroke-width="2.4" stroke-dasharray="2.4 5.0" stroke-dashoffset="-1.1"/>
<path d="M67.8,22.00L69.9,21.98L71.9,21.93L73.9,21.85L75.9,21.75L77.9,21.63L79.9,21.51L81.9,21.37L83.9,21.24L85.9,21.11L87.9,21.00L89.9,20.90L91.9,20.82L93.9,20.75L95.9,20.69L97.9,20.65L99.9,20.61L101.9,20.58L103.9,20.55L105.9,20.53L107.9,20.51L109.9,20.49L111.9,20.46L113.9,20.43L115.9,20.40L117.9,20.36L119.9,20.31L121.9,20.26L123.9,20.20L125.9,20.14L127.9,20.09L129.9,20.03L131.9,19.97L133.9,19.92L135.9,19.87L137.9,19.83L139.9,19.80L141.9,19.78L143.9,19.76L145.9,19.75L147.9,19.75L149.9,19.76L151.9,19.77L153.9,19.79L155.9,19.81L157.9,19.83L159.9,19.86L161.9,19.89L164.0,19.91L166.0,19.94L168.0,19.97L170.0,20.00L172.0,20.03L174.0,20.05L176.0,20.07L178.0,20.09L180.0,20.11L182.0,20.13L184.0,20.15L186.0,20.17L188.0,20.18L190.0,20.20L192.0,20.22L194.0,20.24L196.0,20.26L198.0,20.28L200.0,20.30L202.0,20.32L204.0,20.35L206.0,20.37L208.0,20.40L210.0,20.43L212.0,20.45L214.0,20.48L216.0,20.51L218.0,20.54L220.0,20.57L222.0,20.59L224.0,20.62L226.0,20.65L228.0,20.67L230.0,20.70L232.0,20.72L234.0,20.75L236.0,20.77L238.0,20.79L240.0,20.81L242.0,20.83L244.0,20.85L246.0,20.87L248.0,20.89L250.0,20.91L252.0,20.92L254.0,20.94L256.0,20.96L258.1,20.98L260.1,21.00L262.1,21.02L264.1,21.04L266.1,21.06L268.1,21.08L270.1,21.10L272.1,21.12L274.1,21.14L276.1,21.16L278.1,21.18L280.1,21.21L282.1,21.23L284.1,21.24L286.1,21.26L288.1,21.28L290.1,21.30L292.1,21.32L294.1,21.33L296.1,21.35L298.1,21.36L300.1,21.38L302.1,21.39L304.1,21.41L306.1,21.42L308.1,21.43L310.1,21.44L312.1,21.46L314.1,21.47L316.1,21.48L318.1,21.49L320.1,21.50L322.1,21.51L324.1,21.52L326.1,21.53L328.1,21.54L330.1,21.55L332.1,21.56L334.1,21.57L336.1,21.57L338.1,21.58L340.1,21.59L342.1,21.59L344.1,21.59L346.1,21.60L348.1,21.60L350.1,21.60" fill="none" stroke="#bc6cc9" stroke-width="3.30" stroke-linejoin="round" stroke-linecap="butt" stroke-opacity="0.95"/>
<path d="M67.8,22.20L69.9,22.23L71.9,22.32L73.9,22.47L75.9,22.66L77.9,22.90L79.9,23.18L81.9,23.50L83.9,23.84L85.9,24.21L87.9,24.60L89.9,25.01L91.9,25.44L93.9,25.93L95.9,26.49L97.9,27.11L99.9,27.78L101.9,28.48L103.9,29.18L105.9,29.86L107.9,30.50L109.9,31.08L111.9,31.59L113.9,32.05L115.9,32.45L117.9,32.82L119.9,33.17L121.9,33.50L123.9,33.83L125.9,34.17L127.9,34.52L129.9,34.87L131.9,35.22L133.9,35.56L135.9,35.89L137.9,36.21L139.9,36.50L141.9,36.77L143.9,37.01L145.9,37.23L147.9,37.43L149.9,37.61L151.9,37.77L153.9,37.93L155.9,38.07L157.9,38.21L159.9,38.33L161.9,38.44L164.0,38.53L166.0,38.61L168.0,38.66L170.0,38.70L172.0,38.71L174.0,38.70L176.0,38.66L178.0,38.60L180.0,38.52L182.0,38.41L184.0,38.28L186.0,38.12L188.0,37.93L190.0,37.73L192.0,37.51L194.0,37.27L196.0,37.02L198.0,36.76L200.0,36.50L202.0,36.23L204.0,35.96L206.0,35.69L208.0,35.41L210.0,35.12L212.0,34.84L214.0,34.55L216.0,34.25L218.0,33.95L220.0,33.65L222.0,33.35L224.0,33.06L226.0,32.76L228.0,32.48L230.0,32.20L232.0,31.93L234.0,31.67L236.0,31.42L238.0,31.17L240.0,30.92L242.0,30.67L244.0,30.43L246.0,30.17L248.0,29.92L250.0,29.66L252.0,29.41L254.0,29.15L256.0,28.90L258.1,28.65L260.1,28.41L262.1,28.18L264.1,27.95L266.1,27.72L268.1,27.51L270.1,27.30L272.1,27.09L274.1,26.90L276.1,26.71L278.1,26.53L280.1,26.36L282.1,26.20L284.1,26.04L286.1,25.89L288.1,25.74L290.1,25.60L292.1,25.47L294.1,25.34L296.1,25.22L298.1,25.11L300.1,25.00L302.1,24.90L304.1,24.81L306.1,24.73L308.1,24.66L310.1,24.59L312.1,24.52L314.1,24.46L316.1,24.40L318.1,24.35L320.1,24.30L322.1,24.25L324.1,24.20L326.1,24.15L328.1,24.11L330.1,24.06L332.1,24.02L334.1,23.98L336.1,23.94L338.1,23.91L340.1,23.88L342.1,23.85L344.1,23.83L346.1,23.81L348.1,23.80L350.1,23.80" fill="none" stroke="#bc6cc9" stroke-width="3.30" stroke-linejoin="round" stroke-linecap="butt" stroke-opacity="0.95"/>
<path d="M67.8,77.30L69.9,77.31L71.9,77.35L73.9,77.41L75.9,77.50L77.9,77.60L79.9,77.72L81.9,77.85L83.9,77.99L85.9,78.15L87.9,78.31L89.9,78.48L91.9,78.65L93.9,78.83L95.9,79.00L97.9,79.17L99.9,79.34L101.9,79.51L103.9,79.67L105.9,79.83L107.9,79.98L109.9,80.14L111.9,80.28L113.9,80.43L115.9,80.57L117.9,80.70L119.9,80.83L121.9,80.96L123.9,81.08L125.9,81.20L127.9,81.31L129.9,81.42L131.9,81.52L133.9,81.61L135.9,81.71L137.9,81.79L139.9,81.87L141.9,81.94L143.9,82.01L145.9,82.07L147.9,82.13L149.9,82.18L151.9,82.23L153.9,82.27L155.9,82.30L157.9,82.33L159.9,82.35L161.9,82.37L164.0,82.38L166.0,82.39L168.0,82.39L170.0,82.40L172.0,82.40L174.0,82.40L176.0,82.40L178.0,82.40L180.0,82.40L182.0,82.40L184.0,82.40L186.0,82.40L188.0,82.41L190.0,82.41L192.0,82.42L194.0,82.44L196.0,82.45L198.0,82.47L200.0,82.49L202.0,82.51L204.0,82.53L206.0,82.56L208.0,82.58L210.0,82.61L212.0,82.64L214.0,82.67L216.0,82.70L218.0,82.73L220.0,82.76L222.0,82.80L224.0,82.83L226.0,82.87L228.0,82.90L230.0,82.94L232.0,82.97L234.0,83.01L236.0,83.04L238.0,83.07L240.0,83.11L242.0,83.14L244.0,83.17L246.0,83.20L248.0,83.23L250.0,83.26L252.0,83.28L254.0,83.31L256.0,83.33L258.1,83.36L260.1,83.38L262.1,83.41L264.1,83.43L266.1,83.46L268.1,83.49L270.1,83.51L272.1,83.54L274.1,83.57L276.1,83.60L278.1,83.63L280.1,83.67L282.1,83.70L284.1,83.73L286.1,83.77L288.1,83.81L290.1,83.84L292.1,83.88L294.1,83.91L296.1,83.95L298.1,83.98L300.1,84.01L302.1,84.04L304.1,84.07L306.1,84.10L308.1,84.12L310.1,84.15L312.1,84.17L314.1,84.19L316.1,84.20L318.1,84.22L320.1,84.23L322.1,84.24L324.1,84.25L326.1,84.26L328.1,84.27L330.1,84.28L332.1,84.28L334.1,84.29L336.1,84.29L338.1,84.29L340.1,84.30L342.1,84.30L344.1,84.30L346.1,84.30L348.1,84.30L350.1,84.30" fill="none" stroke="#bc6cc9" stroke-width="3.30" stroke-linejoin="round" stroke-linecap="butt" stroke-opacity="0.95"/>
<path d="M67.8,102.60L69.9,102.59L71.9,102.58L73.9,102.54L75.9,102.50L77.9,102.44L79.9,102.36L81.9,102.28L83.9,102.17L85.9,102.05L87.9,101.92L89.9,101.76L91.9,101.59L93.9,101.41L95.9,101.20L97.9,100.98L99.9,100.74L101.9,100.48L103.9,100.22L105.9,99.94L107.9,99.66L109.9,99.38L111.9,99.09L113.9,98.80L115.9,98.51L117.9,98.23L119.9,97.96L121.9,97.69L123.9,97.44L125.9,97.20L127.9,96.98L129.9,96.77L131.9,96.57L133.9,96.39L135.9,96.23L137.9,96.07L139.9,95.92L141.9,95.79L143.9,95.66L145.9,95.53L147.9,95.42L149.9,95.31L151.9,95.20L153.9,95.10L155.9,95.00L157.9,94.90L159.9,94.80L161.9,94.71L164.0,94.61L166.0,94.51L168.0,94.42L170.0,94.32L172.0,94.22L174.0,94.12L176.0,94.02L178.0,93.92L180.0,93.82L182.0,93.72L184.0,93.61L186.0,93.50L188.0,93.39L190.0,93.28L192.0,93.16L194.0,93.04L196.0,92.92L198.0,92.80L200.0,92.68L202.0,92.56L204.0,92.43L206.0,92.31L208.0,92.19L210.0,92.07L212.0,91.94L214.0,91.82L216.0,91.70L218.0,91.58L220.0,91.46L222.0,91.34L224.0,91.23L226.0,91.11L228.0,91.00L230.0,90.89L232.0,90.77L234.0,90.66L236.0,90.55L238.0,90.44L240.0,90.33L242.0,90.22L244.0,90.11L246.0,90.00L248.0,89.89L250.0,89.78L252.0,89.67L254.0,89.57L256.0,89.46L258.1,89.35L260.1,89.24L262.1,89.14L264.1,89.03L266.1,88.93L268.1,88.82L270.1,88.71L272.1,88.61L274.1,88.50L276.1,88.40L278.1,88.30L280.1,88.19L282.1,88.09L284.1,87.99L286.1,87.89L288.1,87.79L290.1,87.69L292.1,87.60L294.1,87.50L296.1,87.41L298.1,87.32L300.1,87.24L302.1,87.16L304.1,87.08L306.1,87.00L308.1,86.93L310.1,86.86L312.1,86.79L314.1,86.73L316.1,86.67L318.1,86.61L320.1,86.55L322.1,86.50L324.1,86.45L326.1,86.40L328.1,86.35L330.1,86.30L332.1,86.25L334.1,86.21L336.1,86.17L338.1,86.13L340.1,86.09L342.1,86.06L344.1,86.03L346.1,86.02L348.1,86.00L350.1,86.00" fill="none" stroke="#bc6cc9" stroke-width="3.30" stroke-linejoin="round" stroke-linecap="butt" stroke-opacity="0.95"/>
<path d="M67.8,143.20L69.9,143.20L71.9,143.21L73.9,143.22L75.9,143.24L77.9,143.27L79.9,143.30L81.9,143.34L83.9,143.38L85.9,143.43L87.9,143.49L89.9,143.56L91.9,143.63L93.9,143.71L95.9,143.80L97.9,143.90L99.9,144.00L101.9,144.11L103.9,144.23L105.9,144.35L107.9,144.47L109.9,144.60L111.9,144.73L113.9,144.86L115.9,144.99L117.9,145.12L119.9,145.24L121.9,145.37L123.9,145.49L125.9,145.60L127.9,145.71L129.9,145.81L131.9,145.91L133.9,146.00L135.9,146.09L137.9,146.17L139.9,146.25L141.9,146.32L143.9,146.39L145.9,146.45L147.9,146.51L149.9,146.56L151.9,146.61L153.9,146.66L155.9,146.70L157.9,146.74L159.9,146.77L161.9,146.80L164.0,146.83L166.0,146.85L168.0,146.88L170.0,146.90L172.0,146.92L174.0,146.94L176.0,146.97L178.0,146.99L180.0,147.01L182.0,147.04L184.0,147.07L186.0,147.10L188.0,147.13L190.0,147.17L192.0,147.21L194.0,147.25L196.0,147.30L198.0,147.35L200.0,147.39L202.0,147.44L204.0,147.49L206.0,147.54L208.0,147.60L210.0,147.65L212.0,147.70L214.0,147.75L216.0,147.80L218.0,147.85L220.0,147.90L222.0,147.94L224.0,147.99L226.0,148.03L228.0,148.08L230.0,148.12L232.0,148.16L234.0,148.20L236.0,148.24L238.0,148.27L240.0,148.31L242.0,148.34L244.0,148.37L246.0,148.40L248.0,148.43L250.0,148.45L252.0,148.48L254.0,148.50L256.0,148.52L258.1,148.55L260.1,148.57L262.1,148.58L264.1,148.60L266.1,148.62L268.1,148.64L270.1,148.65L272.1,148.67L274.1,148.68L276.1,148.70L278.1,148.72L280.1,148.73L282.1,148.75L284.1,148.76L286.1,148.77L288.1,148.79L290.1,148.80L292.1,148.82L294.1,148.83L296.1,148.84L298.1,148.86L300.1,148.87L302.1,148.88L304.1,148.89L306.1,148.90L308.1,148.91L310.1,148.92L312.1,148.93L314.1,148.94L316.1,148.94L318.1,148.95L320.1,148.96L322.1,148.96L324.1,148.97L326.1,148.97L328.1,148.98L330.1,148.98L332.1,148.99L334.1,148.99L336.1,148.99L338.1,148.99L340.1,149.00L342.1,149.00L344.1,149.00L346.1,149.00L348.1,149.00L350.1,149.00" fill="none" stroke="#bc6cc9" stroke-width="3.30" stroke-linejoin="round" stroke-linecap="butt" stroke-opacity="0.95"/>
<path d="M67.8,180.80L69.9,180.79L71.9,180.75L73.9,180.69L75.9,180.61L77.9,180.51L79.9,180.40L81.9,180.26L83.9,180.12L85.9,179.97L87.9,179.80L89.9,179.63L91.9,179.44L93.9,179.25L95.9,179.04L97.9,178.82L99.9,178.59L101.9,178.34L103.9,178.07L105.9,177.78L107.9,177.46L109.9,177.13L111.9,176.77L113.9,176.40L115.9,176.00L117.9,175.59L119.9,175.17L121.9,174.74L123.9,174.30L125.9,173.86L127.9,173.42L129.9,172.98L131.9,172.54L133.9,172.10L135.9,171.67L137.9,171.23L139.9,170.80L141.9,170.36L143.9,169.92L145.9,169.49L147.9,169.04L149.9,168.60L151.9,168.15L153.9,167.70L155.9,167.25L157.9,166.80L159.9,166.34L161.9,165.89L164.0,165.44L166.0,164.99L168.0,164.54L170.0,164.10L172.0,163.66L174.0,163.23L176.0,162.80L178.0,162.38L180.0,161.97L182.0,161.56L184.0,161.15L186.0,160.76L188.0,160.37L190.0,159.99L192.0,159.61L194.0,159.25L196.0,158.89L198.0,158.54L200.0,158.19L202.0,157.85L204.0,157.52L206.0,157.19L208.0,156.87L210.0,156.56L212.0,156.25L214.0,155.94L216.0,155.64L218.0,155.35L220.0,155.07L222.0,154.80L224.0,154.53L226.0,154.28L228.0,154.04L230.0,153.81L232.0,153.59L234.0,153.39L236.0,153.20L238.0,153.02L240.0,152.85L242.0,152.69L244.0,152.54L246.0,152.39L248.0,152.26L250.0,152.13L252.0,152.00L254.0,151.88L256.0,151.76L258.1,151.65L260.1,151.54L262.1,151.44L264.1,151.34L266.1,151.25L268.1,151.16L270.1,151.08L272.1,151.00L274.1,150.93L276.1,150.86L278.1,150.80L280.1,150.75L282.1,150.70L284.1,150.65L286.1,150.61L288.1,150.57L290.1,150.53L292.1,150.50L294.1,150.47L296.1,150.45L298.1,150.42L300.1,150.40L302.1,150.38L304.1,150.36L306.1,150.35L308.1,150.33L310.1,150.32L312.1,150.30L314.1,150.29L316.1,150.28L318.1,150.27L320.1,150.26L322.1,150.25L324.1,150.24L326.1,150.22L328.1,150.21L330.1,150.20L332.1,150.19L334.1,150.17L336.1,150.16L338.1,150.15L340.1,150.13L342.1,150.12L344.1,150.11L346.1,150.11L348.1,150.10L350.1,150.10" fill="none" stroke="#bc6cc9" stroke-width="3.30" stroke-linejoin="round" stroke-linecap="butt" stroke-opacity="0.95"/>
<path d="M67.8,21.80L69.9,21.81L71.9,21.85L73.9,21.91L75.9,21.99L77.9,22.08L79.9,22.18L81.9,22.29L83.9,22.40L85.9,22.50L87.9,22.60L89.9,22.69L91.9,22.77L93.9,22.84L95.9,22.91L97.9,22.97L99.9,23.02L101.9,23.06L103.9,23.11L105.9,23.15L107.9,23.18L109.9,23.22L111.9,23.25L113.9,23.28L115.9,23.31L117.9,23.34L119.9,23.37L121.9,23.40L123.9,23.42L125.9,23.45L127.9,23.47L129.9,23.49L131.9,23.51L133.9,23.52L135.9,23.54L137.9,23.55L139.9,23.57L141.9,23.58L143.9,23.58L145.9,23.59L147.9,23.60L149.9,23.60L151.9,23.60L153.9,23.60L155.9,23.60L157.9,23.59L159.9,23.59L161.9,23.58L164.0,23.57L166.0,23.56L168.0,23.55L170.0,23.54L172.0,23.52L174.0,23.50L176.0,23.48L178.0,23.46L180.0,23.44L182.0,23.42L184.0,23.39L186.0,23.37L188.0,23.34L190.0,23.31L192.0,23.28L194.0,23.25L196.0,23.22L198.0,23.19L200.0,23.15L202.0,23.12L204.0,23.08L206.0,23.04L208.0,23.00L210.0,22.96L212.0,22.92L214.0,22.88L216.0,22.83L218.0,22.79L220.0,22.74L222.0,22.70L224.0,22.66L226.0,22.61L228.0,22.57L230.0,22.52L232.0,22.48L234.0,22.43L236.0,22.39L238.0,22.34L240.0,22.30L242.0,22.26L244.0,22.22L246.0,22.18L248.0,22.14L250.0,22.10L252.0,22.06L254.0,22.02L256.0,21.99L258.1,21.96L260.1,21.92L262.1,21.89L264.1,21.86L266.1,21.84L268.1,21.81L270.1,21.79L272.1,21.77L274.1,21.75L276.1,21.73L278.1,21.71L280.1,21.70L282.1,21.69L284.1,21.67L286.1,21.66L288.1,21.66L290.1,21.65L292.1,21.64L294.1,21.64L296.1,21.63L298.1,21.63L300.1,21.63L302.1,21.63L304.1,21.63L306.1,21.63L308.1,21.63L310.1,21.63L312.1,21.63L314.1,21.64L316.1,21.64L318.1,21.65L320.1,21.65L322.1,21.65L324.1,21.66L326.1,21.66L328.1,21.67L330.1,21.67L332.1,21.68L334.1,21.68L336.1,21.68L338.1,21.69L340.1,21.69L342.1,21.69L344.1,21.70L346.1,21.70L348.1,21.70L350.1,21.70" fill="none" stroke="#30d27f" stroke-width="3.30" stroke-linejoin="round" stroke-linecap="butt" stroke-opacity="0.92"/>
<path d="M67.8,87.40L69.9,87.39L71.9,87.37L73.9,87.33L75.9,87.28L77.9,87.22L79.9,87.15L81.9,87.08L83.9,86.99L85.9,86.90L87.9,86.80L89.9,86.70L91.9,86.60L93.9,86.49L95.9,86.38L97.9,86.27L99.9,86.17L101.9,86.06L103.9,85.95L105.9,85.85L107.9,85.75L109.9,85.65L111.9,85.56L113.9,85.47L115.9,85.39L117.9,85.30L119.9,85.22L121.9,85.15L123.9,85.07L125.9,85.00L127.9,84.93L129.9,84.87L131.9,84.80L133.9,84.74L135.9,84.68L137.9,84.62L139.9,84.56L141.9,84.50L143.9,84.45L145.9,84.40L147.9,84.35L149.9,84.30L151.9,84.26L153.9,84.21L155.9,84.17L157.9,84.14L159.9,84.10L161.9,84.07L164.0,84.03L166.0,84.00L168.0,83.98L170.0,83.95L172.0,83.93L174.0,83.90L176.0,83.88L178.0,83.86L180.0,83.84L182.0,83.83L184.0,83.81L186.0,83.80L188.0,83.78L190.0,83.77L192.0,83.76L194.0,83.75L196.0,83.74L198.0,83.73L200.0,83.72L202.0,83.72L204.0,83.71L206.0,83.71L208.0,83.70L210.0,83.70L212.0,83.69L214.0,83.69L216.0,83.68L218.0,83.68L220.0,83.68L222.0,83.68L224.0,83.67L226.0,83.67L228.0,83.67L230.0,83.67L232.0,83.67L234.0,83.67L236.0,83.67L238.0,83.67L240.0,83.67L242.0,83.67L244.0,83.67L246.0,83.67L248.0,83.67L250.0,83.68L252.0,83.68L254.0,83.68L256.0,83.68L258.1,83.68L260.1,83.69L262.1,83.69L264.1,83.69L266.1,83.70L268.1,83.70L270.1,83.70L272.1,83.70L274.1,83.71L276.1,83.71L278.1,83.71L280.1,83.72L282.1,83.72L284.1,83.72L286.1,83.73L288.1,83.73L290.1,83.73L292.1,83.74L294.1,83.74L296.1,83.74L298.1,83.75L300.1,83.75L302.1,83.75L304.1,83.76L306.1,83.76L308.1,83.76L310.1,83.77L312.1,83.77L314.1,83.77L316.1,83.77L318.1,83.78L320.1,83.78L322.1,83.78L324.1,83.78L326.1,83.79L328.1,83.79L330.1,83.79L332.1,83.79L334.1,83.79L336.1,83.80L338.1,83.80L340.1,83.80L342.1,83.80L344.1,83.80L346.1,83.80L348.1,83.80L350.1,83.80" fill="none" stroke="#30d27f" stroke-width="3.30" stroke-linejoin="round" stroke-linecap="butt" stroke-opacity="0.92"/>
<path d="M67.8,154.00L69.9,154.00L71.9,153.98L73.9,153.96L75.9,153.93L77.9,153.90L79.9,153.86L81.9,153.81L83.9,153.75L85.9,153.69L87.9,153.63L89.9,153.56L91.9,153.49L93.9,153.42L95.9,153.34L97.9,153.26L99.9,153.18L101.9,153.09L103.9,153.01L105.9,152.93L107.9,152.84L109.9,152.76L111.9,152.68L113.9,152.59L115.9,152.51L117.9,152.43L119.9,152.35L121.9,152.28L123.9,152.20L125.9,152.12L127.9,152.05L129.9,151.98L131.9,151.90L133.9,151.83L135.9,151.76L137.9,151.69L139.9,151.62L141.9,151.56L143.9,151.49L145.9,151.43L147.9,151.36L149.9,151.30L151.9,151.24L153.9,151.18L155.9,151.12L157.9,151.06L159.9,151.01L161.9,150.95L164.0,150.90L166.0,150.85L168.0,150.79L170.0,150.74L172.0,150.69L174.0,150.64L176.0,150.60L178.0,150.55L180.0,150.50L182.0,150.46L184.0,150.41L186.0,150.37L188.0,150.32L190.0,150.28L192.0,150.23L194.0,150.19L196.0,150.15L198.0,150.11L200.0,150.06L202.0,150.02L204.0,149.98L206.0,149.94L208.0,149.90L210.0,149.86L212.0,149.82L214.0,149.78L216.0,149.74L218.0,149.70L220.0,149.66L222.0,149.62L224.0,149.58L226.0,149.55L228.0,149.51L230.0,149.48L232.0,149.44L234.0,149.41L236.0,149.38L238.0,149.35L240.0,149.32L242.0,149.29L244.0,149.26L246.0,149.24L248.0,149.21L250.0,149.19L252.0,149.17L254.0,149.15L256.0,149.13L258.1,149.12L260.1,149.10L262.1,149.09L264.1,149.08L266.1,149.07L268.1,149.06L270.1,149.05L272.1,149.04L274.1,149.03L276.1,149.03L278.1,149.02L280.1,149.02L282.1,149.01L284.1,149.01L286.1,149.00L288.1,149.00L290.1,149.00L292.1,149.00L294.1,149.00L296.1,148.99L298.1,148.99L300.1,148.99L302.1,148.99L304.1,148.99L306.1,148.99L308.1,148.99L310.1,148.99L312.1,148.99L314.1,148.99L316.1,148.99L318.1,148.99L320.1,148.99L322.1,148.99L324.1,148.99L326.1,148.99L328.1,148.99L330.1,149.00L332.1,149.00L334.1,149.00L336.1,149.00L338.1,149.00L340.1,149.00L342.1,149.00L344.1,149.00L346.1,149.00L348.1,149.00L350.1,149.00" fill="none" stroke="#30d27f" stroke-width="3.30" stroke-linejoin="round" stroke-linecap="butt" stroke-opacity="0.92"/>
<path d="M67.8,21.20L69.9,21.20L71.9,21.18L73.9,21.16L75.9,21.14L77.9,21.10L79.9,21.06L81.9,21.02L83.9,20.97L85.9,20.92L87.9,20.86L89.9,20.80L91.9,20.74L93.9,20.68L95.9,20.61L97.9,20.55L99.9,20.48L101.9,20.42L103.9,20.35L105.9,20.29L107.9,20.23L109.9,20.17L111.9,20.12L113.9,20.06L115.9,20.02L117.9,19.97L119.9,19.93L121.9,19.89L123.9,19.85L125.9,19.81L127.9,19.78L129.9,19.75L131.9,19.73L133.9,19.70L135.9,19.68L137.9,19.66L139.9,19.65L141.9,19.63L143.9,19.62L145.9,19.61L147.9,19.60L149.9,19.60L151.9,19.60L153.9,19.60L155.9,19.60L157.9,19.61L159.9,19.61L161.9,19.62L164.0,19.63L166.0,19.64L168.0,19.66L170.0,19.67L172.0,19.69L174.0,19.71L176.0,19.73L178.0,19.75L180.0,19.77L182.0,19.80L184.0,19.82L186.0,19.85L188.0,19.88L190.0,19.91L192.0,19.94L194.0,19.97L196.0,20.00L198.0,20.03L200.0,20.06L202.0,20.10L204.0,20.13L206.0,20.17L208.0,20.20L210.0,20.23L212.0,20.27L214.0,20.31L216.0,20.34L218.0,20.38L220.0,20.41L222.0,20.45L224.0,20.48L226.0,20.52L228.0,20.55L230.0,20.59L232.0,20.63L234.0,20.66L236.0,20.70L238.0,20.73L240.0,20.76L242.0,20.80L244.0,20.83L246.0,20.87L248.0,20.90L250.0,20.93L252.0,20.96L254.0,20.99L256.0,21.02L258.1,21.05L260.1,21.08L262.1,21.11L264.1,21.14L266.1,21.16L268.1,21.19L270.1,21.21L272.1,21.24L274.1,21.26L276.1,21.28L278.1,21.30L280.1,21.32L282.1,21.34L284.1,21.36L286.1,21.38L288.1,21.39L290.1,21.41L292.1,21.42L294.1,21.44L296.1,21.45L298.1,21.46L300.1,21.48L302.1,21.49L304.1,21.50L306.1,21.51L308.1,21.52L310.1,21.53L312.1,21.53L314.1,21.54L316.1,21.55L318.1,21.56L320.1,21.56L322.1,21.57L324.1,21.57L326.1,21.58L328.1,21.58L330.1,21.58L332.1,21.59L334.1,21.59L336.1,21.59L338.1,21.59L340.1,21.60L342.1,21.60L344.1,21.60L346.1,21.60L348.1,21.60L350.1,21.60" fill="none" stroke="#1fb670" stroke-width="3.30" stroke-linejoin="round" stroke-linecap="butt" stroke-opacity="0.92"/>
<path d="M67.8,77.20L69.9,77.21L71.9,77.23L73.9,77.26L75.9,77.31L77.9,77.37L79.9,77.43L81.9,77.51L83.9,77.60L85.9,77.70L87.9,77.80L89.9,77.91L91.9,78.03L93.9,78.15L95.9,78.28L97.9,78.41L99.9,78.55L101.9,78.69L103.9,78.83L105.9,78.98L107.9,79.13L109.9,79.28L111.9,79.43L113.9,79.58L115.9,79.73L117.9,79.87L119.9,80.02L121.9,80.16L123.9,80.29L125.9,80.42L127.9,80.54L129.9,80.66L131.9,80.76L133.9,80.85L135.9,80.94L137.9,81.02L139.9,81.10L141.9,81.17L143.9,81.23L145.9,81.29L147.9,81.35L149.9,81.40L151.9,81.45L153.9,81.50L155.9,81.54L157.9,81.59L159.9,81.63L161.9,81.67L164.0,81.70L166.0,81.74L168.0,81.77L170.0,81.80L172.0,81.84L174.0,81.87L176.0,81.89L178.0,81.92L180.0,81.95L182.0,81.97L184.0,82.00L186.0,82.02L188.0,82.05L190.0,82.07L192.0,82.10L194.0,82.12L196.0,82.15L198.0,82.17L200.0,82.20L202.0,82.22L204.0,82.25L206.0,82.27L208.0,82.30L210.0,82.33L212.0,82.36L214.0,82.39L216.0,82.42L218.0,82.45L220.0,82.48L222.0,82.51L224.0,82.55L226.0,82.58L228.0,82.62L230.0,82.65L232.0,82.69L234.0,82.72L236.0,82.76L238.0,82.79L240.0,82.83L242.0,82.86L244.0,82.90L246.0,82.93L248.0,82.97L250.0,83.00L252.0,83.03L254.0,83.07L256.0,83.10L258.1,83.13L260.1,83.17L262.1,83.20L264.1,83.23L266.1,83.26L268.1,83.29L270.1,83.31L272.1,83.34L274.1,83.37L276.1,83.39L278.1,83.42L280.1,83.44L282.1,83.46L284.1,83.48L286.1,83.51L288.1,83.53L290.1,83.55L292.1,83.56L294.1,83.58L296.1,83.60L298.1,83.61L300.1,83.63L302.1,83.64L304.1,83.66L306.1,83.67L308.1,83.68L310.1,83.69L312.1,83.71L314.1,83.72L316.1,83.73L318.1,83.73L320.1,83.74L322.1,83.75L324.1,83.76L326.1,83.76L328.1,83.77L330.1,83.78L332.1,83.78L334.1,83.78L336.1,83.79L338.1,83.79L340.1,83.79L342.1,83.80L344.1,83.80L346.1,83.80L348.1,83.80L350.1,83.80" fill="none" stroke="#1fb670" stroke-width="3.30" stroke-linejoin="round" stroke-linecap="butt" stroke-opacity="0.92"/>
<path d="M67.8,142.80L69.9,142.80L71.9,142.81L73.9,142.83L75.9,142.86L77.9,142.89L79.9,142.92L81.9,142.96L83.9,143.01L85.9,143.06L87.9,143.11L89.9,143.17L91.9,143.23L93.9,143.30L95.9,143.37L97.9,143.44L99.9,143.51L101.9,143.59L103.9,143.66L105.9,143.74L107.9,143.82L109.9,143.90L111.9,143.98L113.9,144.06L115.9,144.13L117.9,144.21L119.9,144.29L121.9,144.36L123.9,144.43L125.9,144.50L127.9,144.57L129.9,144.63L131.9,144.69L133.9,144.75L135.9,144.80L137.9,144.85L139.9,144.90L141.9,144.95L143.9,145.00L145.9,145.04L147.9,145.08L149.9,145.12L151.9,145.15L153.9,145.19L155.9,145.22L157.9,145.26L159.9,145.29L161.9,145.32L164.0,145.35L166.0,145.38L168.0,145.41L170.0,145.44L172.0,145.47L174.0,145.50L176.0,145.53L178.0,145.57L180.0,145.60L182.0,145.63L184.0,145.66L186.0,145.70L188.0,145.73L190.0,145.77L192.0,145.81L194.0,145.85L196.0,145.89L198.0,145.94L200.0,145.99L202.0,146.04L204.0,146.09L206.0,146.14L208.0,146.20L210.0,146.26L212.0,146.32L214.0,146.39L216.0,146.46L218.0,146.53L220.0,146.60L222.0,146.68L224.0,146.75L226.0,146.83L228.0,146.90L230.0,146.98L232.0,147.06L234.0,147.14L236.0,147.22L238.0,147.29L240.0,147.37L242.0,147.45L244.0,147.52L246.0,147.59L248.0,147.67L250.0,147.73L252.0,147.80L254.0,147.87L256.0,147.93L258.1,147.99L260.1,148.05L262.1,148.11L264.1,148.16L266.1,148.22L268.1,148.27L270.1,148.32L272.1,148.36L274.1,148.41L276.1,148.45L278.1,148.49L280.1,148.53L282.1,148.57L284.1,148.60L286.1,148.64L288.1,148.67L290.1,148.70L292.1,148.73L294.1,148.75L296.1,148.78L298.1,148.80L300.1,148.82L302.1,148.84L304.1,148.86L306.1,148.88L308.1,148.89L310.1,148.91L312.1,148.92L314.1,148.93L316.1,148.94L318.1,148.95L320.1,148.96L322.1,148.97L324.1,148.97L326.1,148.98L328.1,148.98L330.1,148.99L332.1,148.99L334.1,148.99L336.1,148.99L338.1,149.00L340.1,149.00L342.1,149.00L344.1,149.00L346.1,149.00L348.1,149.00L350.1,149.00" fill="none" stroke="#1fb670" stroke-width="3.30" stroke-linejoin="round" stroke-linecap="butt" stroke-opacity="0.92"/>
</g>
<rect x="67.85" y="10.00" width="282.30" height="179.85" fill="none" stroke="#1e1e1e" stroke-width="1.3"/>
<line x1="67.85" y1="189.85" x2="67.85" y2="194.85" stroke="#1e1e1e" stroke-width="1.3"/>
<line x1="138.42" y1="189.85" x2="138.42" y2="194.85" stroke="#1e1e1e" stroke-width="1.3"/>
<line x1="209.00" y1="189.85" x2="209.00" y2="194.85" stroke="#1e1e1e" stroke-width="1.3"/>
<line x1="279.57" y1="189.85" x2="279.57" y2="194.85" stroke="#1e1e1e" stroke-width="1.3"/>
<line x1="350.15" y1="189.85" x2="350.15" y2="194.85" stroke="#1e1e1e" stroke-width="1.3"/>
<text transform="translate(67.85,213.4) scale(1.200,1)" text-anchor="middle" class="tk">0</text>
<text transform="translate(138.42,213.4) scale(1.200,1)" text-anchor="middle" class="tk">5</text>
<text transform="translate(209.00,213.4) scale(1.200,1)" text-anchor="middle" class="tk">10</text>
<text transform="translate(279.57,213.4) scale(1.200,1)" text-anchor="middle" class="tk">15</text>
<text transform="translate(350.15,213.4) scale(1.200,1)" text-anchor="middle" class="tk">20</text>
<text x="174.70" y="236.4" class="al" style="font-style:italic">X</text>
<text x="187.40" y="238.1" class="al" style="font-style:italic;font-size:12.4px">T</text>
<text transform="translate(202.40,236.4) scale(1.22,1)" class="al">[nm]</text>
</g>
<g transform="translate(0.00,421.25)">
<g clip-path="url(#ca)">
<line x1="67.85" y1="23.90" x2="350.15" y2="23.90" stroke="#c0c0c0" stroke-width="2.4" stroke-dasharray="2.4 5.0" stroke-dashoffset="-1.1"/>
<line x1="67.85" y1="85.60" x2="350.15" y2="85.60" stroke="#c0c0c0" stroke-width="2.4" stroke-dasharray="2.4 5.0" stroke-dashoffset="-1.1"/>
<line x1="67.85" y1="148.90" x2="350.15" y2="148.90" stroke="#c0c0c0" stroke-width="2.4" stroke-dasharray="2.4 5.0" stroke-dashoffset="-1.1"/>
<path d="M67.8,22.00L69.9,21.98L71.9,21.93L73.9,21.85L75.9,21.75L77.9,21.63L79.9,21.51L81.9,21.37L83.9,21.24L85.9,21.11L87.9,21.00L89.9,20.90L91.9,20.82L93.9,20.75L95.9,20.69L97.9,20.65L99.9,20.61L101.9,20.58L103.9,20.55L105.9,20.53L107.9,20.51L109.9,20.49L111.9,20.46L113.9,20.43L115.9,20.40L117.9,20.36L119.9,20.31L121.9,20.26L123.9,20.20L125.9,20.14L127.9,20.09L129.9,20.03L131.9,19.97L133.9,19.92L135.9,19.87L137.9,19.83L139.9,19.80L141.9,19.78L143.9,19.76L145.9,19.75L147.9,19.75L149.9,19.76L151.9,19.77L153.9,19.79L155.9,19.81L157.9,19.83L159.9,19.86L161.9,19.89L164.0,19.91L166.0,19.94L168.0,19.97L170.0,20.00L172.0,20.03L174.0,20.05L176.0,20.07L178.0,20.09L180.0,20.11L182.0,20.13L184.0,20.15L186.0,20.17L188.0,20.18L190.0,20.20L192.0,20.22L194.0,20.24L196.0,20.26L198.0,20.28L200.0,20.30L202.0,20.32L204.0,20.35L206.0,20.37L208.0,20.40L210.0,20.43L212.0,20.45L214.0,20.48L216.0,20.51L218.0,20.54L220.0,20.57L222.0,20.59L224.0,20.62L226.0,20.65L228.0,20.67L230.0,20.70L232.0,20.72L234.0,20.75L236.0,20.77L238.0,20.79L240.0,20.81L242.0,20.83L244.0,20.85L246.0,20.87L248.0,20.89L250.0,20.91L252.0,20.92L254.0,20.94L256.0,20.96L258.1,20.98L260.1,21.00L262.1,21.02L264.1,21.04L266.1,21.06L268.1,21.08L270.1,21.10L272.1,21.12L274.1,21.14L276.1,21.16L278.1,21.18L280.1,21.21L282.1,21.23L284.1,21.24L286.1,21.26L288.1,21.28L290.1,21.30L292.1,21.32L294.1,21.33L296.1,21.35L298.1,21.36L300.1,21.38L302.1,21.39L304.1,21.41L306.1,21.42L308.1,21.43L310.1,21.44L312.1,21.46L314.1,21.47L316.1,21.48L318.1,21.49L320.1,21.50L322.1,21.51L324.1,21.52L326.1,21.53L328.1,21.54L330.1,21.55L332.1,21.56L334.1,21.57L336.1,21.57L338.1,21.58L340.1,21.59L342.1,21.59L344.1,21.59L346.1,21.60L348.1,21.60L350.1,21.60" fill="none" stroke="#bc6cc9" stroke-width="3.30" stroke-linejoin="round" stroke-linecap="butt" stroke-opacity="0.95"/>
<path d="M67.8,22.20L69.9,22.23L71.9,22.32L73.9,22.47L75.9,22.66L77.9,22.90L79.9,23.18L81.9,23.50L83.9,23.84L85.9,24.21L87.9,24.60L89.9,25.01L91.9,25.44L93.9,25.93L95.9,26.49L97.9,27.11L99.9,27.78L101.9,28.48L103.9,29.18L105.9,29.86L107.9,30.50L109.9,31.08L111.9,31.59L113.9,32.05L115.9,32.45L117.9,32.82L119.9,33.17L121.9,33.50L123.9,33.83L125.9,34.17L127.9,34.52L129.9,34.87L131.9,35.22L133.9,35.56L135.9,35.89L137.9,36.21L139.9,36.50L141.9,36.77L143.9,37.01L145.9,37.23L147.9,37.43L149.9,37.61L151.9,37.77L153.9,37.93L155.9,38.07L157.9,38.21L159.9,38.33L161.9,38.44L164.0,38.53L166.0,38.61L168.0,38.66L170.0,38.70L172.0,38.71L174.0,38.70L176.0,38.66L178.0,38.60L180.0,38.52L182.0,38.41L184.0,38.28L186.0,38.12L188.0,37.93L190.0,37.73L192.0,37.51L194.0,37.27L196.0,37.02L198.0,36.76L200.0,36.50L202.0,36.23L204.0,35.96L206.0,35.69L208.0,35.41L210.0,35.12L212.0,34.84L214.0,34.55L216.0,34.25L218.0,33.95L220.0,33.65L222.0,33.35L224.0,33.06L226.0,32.76L228.0,32.48L230.0,32.20L232.0,31.93L234.0,31.67L236.0,31.42L238.0,31.17L240.0,30.92L242.0,30.67L244.0,30.43L246.0,30.17L248.0,29.92L250.0,29.66L252.0,29.41L254.0,29.15L256.0,28.90L258.1,28.65L260.1,28.41L262.1,28.18L264.1,27.95L266.1,27.72L268.1,27.51L270.1,27.30L272.1,27.09L274.1,26.90L276.1,26.71L278.1,26.53L280.1,26.36L282.1,26.20L284.1,26.04L286.1,25.89L288.1,25.74L290.1,25.60L292.1,25.47L294.1,25.34L296.1,25.22L298.1,25.11L300.1,25.00L302.1,24.90L304.1,24.81L306.1,24.73L308.1,24.66L310.1,24.59L312.1,24.52L314.1,24.46L316.1,24.40L318.1,24.35L320.1,24.30L322.1,24.25L324.1,24.20L326.1,24.15L328.1,24.11L330.1,24.06L332.1,24.02L334.1,23.98L336.1,23.94L338.1,23.91L340.1,23.88L342.1,23.85L344.1,23.83L346.1,23.81L348.1,23.80L350.1,23.80" fill="none" stroke="#bc6cc9" stroke-width="3.30" stroke-linejoin="round" stroke-linecap="butt" stroke-opacity="0.95"/>
<path d="M67.8,77.30L69.9,77.31L71.9,77.35L73.9,77.41L75.9,77.50L77.9,77.60L79.9,77.72L81.9,77.85L83.9,77.99L85.9,78.15L87.9,78.31L89.9,78.48L91.9,78.65L93.9,78.83L95.9,79.00L97.9,79.17L99.9,79.34L101.9,79.51L103.9,79.67L105.9,79.83L107.9,79.98L109.9,80.14L111.9,80.28L113.9,80.43L115.9,80.57L117.9,80.70L119.9,80.83L121.9,80.96L123.9,81.08L125.9,81.20L127.9,81.31L129.9,81.42L131.9,81.52L133.9,81.61L135.9,81.71L137.9,81.79L139.9,81.87L141.9,81.94L143.9,82.01L145.9,82.07L147.9,82.13L149.9,82.18L151.9,82.23L153.9,82.27L155.9,82.30L157.9,82.33L159.9,82.35L161.9,82.37L164.0,82.38L166.0,82.39L168.0,82.39L170.0,82.40L172.0,82.40L174.0,82.40L176.0,82.40L178.0,82.40L180.0,82.40L182.0,82.40L184.0,82.40L186.0,82.40L188.0,82.41L190.0,82.41L192.0,82.42L194.0,82.44L196.0,82.45L198.0,82.47L200.0,82.49L202.0,82.51L204.0,82.53L206.0,82.56L208.0,82.58L210.0,82.61L212.0,82.64L214.0,82.67L216.0,82.70L218.0,82.73L220.0,82.76L222.0,82.80L224.0,82.83L226.0,82.87L228.0,82.90L230.0,82.94L232.0,82.97L234.0,83.01L236.0,83.04L238.0,83.07L240.0,83.11L242.0,83.14L244.0,83.17L246.0,83.20L248.0,83.23L250.0,83.26L252.0,83.28L254.0,83.31L256.0,83.33L258.1,83.36L260.1,83.38L262.1,83.41L264.1,83.43L266.1,83.46L268.1,83.49L270.1,83.51L272.1,83.54L274.1,83.57L276.1,83.60L278.1,83.63L280.1,83.67L282.1,83.70L284.1,83.73L286.1,83.77L288.1,83.81L290.1,83.84L292.1,83.88L294.1,83.91L296.1,83.95L298.1,83.98L300.1,84.01L302.1,84.04L304.1,84.07L306.1,84.10L308.1,84.12L310.1,84.15L312.1,84.17L314.1,84.19L316.1,84.20L318.1,84.22L320.1,84.23L322.1,84.24L324.1,84.25L326.1,84.26L328.1,84.27L330.1,84.28L332.1,84.28L334.1,84.29L336.1,84.29L338.1,84.29L340.1,84.30L342.1,84.30L344.1,84.30L346.1,84.30L348.1,84.30L350.1,84.30" fill="none" stroke="#bc6cc9" stroke-width="3.30" stroke-linejoin="round" stroke-linecap="butt" stroke-opacity="0.95"/>
<path d="M67.8,102.60L69.9,102.59L71.9,102.58L73.9,102.54L75.9,102.50L77.9,102.44L79.9,102.36L81.9,102.28L83.9,102.17L85.9,102.05L87.9,101.92L89.9,101.76L91.9,101.59L93.9,101.41L95.9,101.20L97.9,100.98L99.9,100.74L101.9,100.48L103.9,100.22L105.9,99.94L107.9,99.66L109.9,99.38L111.9,99.09L113.9,98.80L115.9,98.51L117.9,98.23L119.9,97.96L121.9,97.69L123.9,97.44L125.9,97.20L127.9,96.98L129.9,96.77L131.9,96.57L133.9,96.39L135.9,96.23L137.9,96.07L139.9,95.92L141.9,95.79L143.9,95.66L145.9,95.53L147.9,95.42L149.9,95.31L151.9,95.20L153.9,95.10L155.9,95.00L157.9,94.90L159.9,94.80L161.9,94.71L164.0,94.61L166.0,94.51L168.0,94.42L170.0,94.32L172.0,94.22L174.0,94.12L176.0,94.02L178.0,93.92L180.0,93.82L182.0,93.72L184.0,93.61L186.0,93.50L188.0,93.39L190.0,93.28L192.0,93.16L194.0,93.04L196.0,92.92L198.0,92.80L200.0,92.68L202.0,92.56L204.0,92.43L206.0,92.31L208.0,92.19L210.0,92.07L212.0,91.94L214.0,91.82L216.0,91.70L218.0,91.58L220.0,91.46L222.0,91.34L224.0,91.23L226.0,91.11L228.0,91.00L230.0,90.89L232.0,90.77L234.0,90.66L236.0,90.55L238.0,90.44L240.0,90.33L242.0,90.22L244.0,90.11L246.0,90.00L248.0,89.89L250.0,89.78L252.0,89.67L254.0,89.57L256.0,89.46L258.1,89.35L260.1,89.24L262.1,89.14L264.1,89.03L266.1,88.93L268.1,88.82L270.1,88.71L272.1,88.61L274.1,88.50L276.1,88.40L278.1,88.30L280.1,88.19L282.1,88.09L284.1,87.99L286.1,87.89L288.1,87.79L290.1,87.69L292.1,87.60L294.1,87.50L296.1,87.41L298.1,87.32L300.1,87.24L302.1,87.16L304.1,87.08L306.1,87.00L308.1,86.93L310.1,86.86L312.1,86.79L314.1,86.73L316.1,86.67L318.1,86.61L320.1,86.55L322.1,86.50L324.1,86.45L326.1,86.40L328.1,86.35L330.1,86.30L332.1,86.25L334.1,86.21L336.1,86.17L338.1,86.13L340.1,86.09L342.1,86.06L344.1,86.03L346.1,86.02L348.1,86.00L350.1,86.00" fill="none" stroke="#bc6cc9" stroke-width="3.30" stroke-linejoin="round" stroke-linecap="butt" stroke-opacity="0.95"/>
<path d="M67.8,143.20L69.9,143.20L71.9,143.21L73.9,143.22L75.9,143.24L77.9,143.27L79.9,143.30L81.9,143.34L83.9,143.38L85.9,143.43L87.9,143.49L89.9,143.56L91.9,143.63L93.9,143.71L95.9,143.80L97.9,143.90L99.9,144.00L101.9,144.11L103.9,144.23L105.9,144.35L107.9,144.47L109.9,144.60L111.9,144.73L113.9,144.86L115.9,144.99L117.9,145.12L119.9,145.24L121.9,145.37L123.9,145.49L125.9,145.60L127.9,145.71L129.9,145.81L131.9,145.91L133.9,146.00L135.9,146.09L137.9,146.17L139.9,146.25L141.9,146.32L143.9,146.39L145.9,146.45L147.9,146.51L149.9,146.56L151.9,146.61L153.9,146.66L155.9,146.70L157.9,146.74L159.9,146.77L161.9,146.80L164.0,146.83L166.0,146.85L168.0,146.88L170.0,146.90L172.0,146.92L174.0,146.94L176.0,146.97L178.0,146.99L180.0,147.01L182.0,147.04L184.0,147.07L186.0,147.10L188.0,147.13L190.0,147.17L192.0,147.21L194.0,147.25L196.0,147.30L198.0,147.35L200.0,147.39L202.0,147.44L204.0,147.49L206.0,147.54L208.0,147.60L210.0,147.65L212.0,147.70L214.0,147.75L216.0,147.80L218.0,147.85L220.0,147.90L222.0,147.94L224.0,147.99L226.0,148.03L228.0,148.08L230.0,148.12L232.0,148.16L234.0,148.20L236.0,148.24L238.0,148.27L240.0,148.31L242.0,148.34L244.0,148.37L246.0,148.40L248.0,148.43L250.0,148.45L252.0,148.48L254.0,148.50L256.0,148.52L258.1,148.55L260.1,148.57L262.1,148.58L264.1,148.60L266.1,148.62L268.1,148.64L270.1,148.65L272.1,148.67L274.1,148.68L276.1,148.70L278.1,148.72L280.1,148.73L282.1,148.75L284.1,148.76L286.1,148.77L288.1,148.79L290.1,148.80L292.1,148.82L294.1,148.83L296.1,148.84L298.1,148.86L300.1,148.87L302.1,148.88L304.1,148.89L306.1,148.90L308.1,148.91L310.1,148.92L312.1,148.93L314.1,148.94L316.1,148.94L318.1,148.95L320.1,148.96L322.1,148.96L324.1,148.97L326.1,148.97L328.1,148.98L330.1,148.98L332.1,148.99L334.1,148.99L336.1,148.99L338.1,148.99L340.1,149.00L342.1,149.00L344.1,149.00L346.1,149.00L348.1,149.00L350.1,149.00" fill="none" stroke="#bc6cc9" stroke-width="3.30" stroke-linejoin="round" stroke-linecap="butt" stroke-opacity="0.95"/>
<path d="M67.8,180.80L69.9,180.79L71.9,180.75L73.9,180.69L75.9,180.61L77.9,180.51L79.9,180.40L81.9,180.26L83.9,180.12L85.9,179.97L87.9,179.80L89.9,179.63L91.9,179.44L93.9,179.25L95.9,179.04L97.9,178.82L99.9,178.59L101.9,178.34L103.9,178.07L105.9,177.78L107.9,177.46L109.9,177.13L111.9,176.77L113.9,176.40L115.9,176.00L117.9,175.59L119.9,175.17L121.9,174.74L123.9,174.30L125.9,173.86L127.9,173.42L129.9,172.98L131.9,172.54L133.9,172.10L135.9,171.67L137.9,171.23L139.9,170.80L141.9,170.36L143.9,169.92L145.9,169.49L147.9,169.04L149.9,168.60L151.9,168.15L153.9,167.70L155.9,167.25L157.9,166.80L159.9,166.34L161.9,165.89L164.0,165.44L166.0,164.99L168.0,164.54L170.0,164.10L172.0,163.66L174.0,163.23L176.0,162.80L178.0,162.38L180.0,161.97L182.0,161.56L184.0,161.15L186.0,160.76L188.0,160.37L190.0,159.99L192.0,159.61L194.0,159.25L196.0,158.89L198.0,158.54L200.0,158.19L202.0,157.85L204.0,157.52L206.0,157.19L208.0,156.87L210.0,156.56L212.0,156.25L214.0,155.94L216.0,155.64L218.0,155.35L220.0,155.07L222.0,154.80L224.0,154.53L226.0,154.28L228.0,154.04L230.0,153.81L232.0,153.59L234.0,153.39L236.0,153.20L238.0,153.02L240.0,152.85L242.0,152.69L244.0,152.54L246.0,152.39L248.0,152.26L250.0,152.13L252.0,152.00L254.0,151.88L256.0,151.76L258.1,151.65L260.1,151.54L262.1,151.44L264.1,151.34L266.1,151.25L268.1,151.16L270.1,151.08L272.1,151.00L274.1,150.93L276.1,150.86L278.1,150.80L280.1,150.75L282.1,150.70L284.1,150.65L286.1,150.61L288.1,150.57L290.1,150.53L292.1,150.50L294.1,150.47L296.1,150.45L298.1,150.42L300.1,150.40L302.1,150.38L304.1,150.36L306.1,150.35L308.1,150.33L310.1,150.32L312.1,150.30L314.1,150.29L316.1,150.28L318.1,150.27L320.1,150.26L322.1,150.25L324.1,150.24L326.1,150.22L328.1,150.21L330.1,150.20L332.1,150.19L334.1,150.17L336.1,150.16L338.1,150.15L340.1,150.13L342.1,150.12L344.1,150.11L346.1,150.11L348.1,150.10L350.1,150.10" fill="none" stroke="#bc6cc9" stroke-width="3.30" stroke-linejoin="round" stroke-linecap="butt" stroke-opacity="0.95"/>
<path d="M67.8,22.20L69.9,22.25L71.9,22.38L73.9,22.57L75.9,22.78L77.9,23.00L79.9,23.20L81.9,23.37L83.9,23.54L85.9,23.69L87.9,23.86L89.9,24.03L91.9,24.21L93.9,24.42L95.9,24.67L97.9,24.94L99.9,25.27L101.9,25.63L103.9,26.04L105.9,26.46L107.9,26.90L109.9,27.35L111.9,27.80L113.9,28.23L115.9,28.64L117.9,29.02L119.9,29.37L121.9,29.66L123.9,29.93L125.9,30.15L127.9,30.35L129.9,30.53L131.9,30.68L133.9,30.82L135.9,30.95L137.9,31.08L139.9,31.20L141.9,31.33L143.9,31.45L145.9,31.58L147.9,31.70L149.9,31.81L151.9,31.92L153.9,32.01L155.9,32.09L157.9,32.15L159.9,32.20L161.9,32.23L164.0,32.23L166.0,32.22L168.0,32.19L170.0,32.15L172.0,32.10L174.0,32.04L176.0,31.96L178.0,31.88L180.0,31.80L182.0,31.71L184.0,31.62L186.0,31.52L188.0,31.42L190.0,31.31L192.0,31.20L194.0,31.08L196.0,30.95L198.0,30.82L200.0,30.67L202.0,30.52L204.0,30.36L206.0,30.20L208.0,30.02L210.0,29.85L212.0,29.66L214.0,29.48L216.0,29.29L218.0,29.11L220.0,28.92L222.0,28.73L224.0,28.55L226.0,28.37L228.0,28.20L230.0,28.03L232.0,27.87L234.0,27.71L236.0,27.56L238.0,27.41L240.0,27.26L242.0,27.11L244.0,26.97L246.0,26.82L248.0,26.67L250.0,26.53L252.0,26.38L254.0,26.23L256.0,26.08L258.1,25.94L260.1,25.79L262.1,25.65L264.1,25.52L266.1,25.38L268.1,25.26L270.1,25.14L272.1,25.03L274.1,24.93L276.1,24.83L278.1,24.74L280.1,24.65L282.1,24.57L284.1,24.50L286.1,24.43L288.1,24.36L290.1,24.30L292.1,24.24L294.1,24.19L296.1,24.13L298.1,24.08L300.1,24.04L302.1,23.99L304.1,23.95L306.1,23.91L308.1,23.88L310.1,23.84L312.1,23.81L314.1,23.78L316.1,23.75L318.1,23.73L320.1,23.70L322.1,23.68L324.1,23.65L326.1,23.63L328.1,23.61L330.1,23.59L332.1,23.58L334.1,23.56L336.1,23.55L338.1,23.53L340.1,23.52L342.1,23.52L344.1,23.51L346.1,23.50L348.1,23.50L350.1,23.50" fill="none" stroke="#27a8e1" stroke-width="3.30" stroke-linejoin="round" stroke-dasharray="12.2 5.3" stroke-linecap="butt" stroke-opacity="0.92"/>
<path d="M67.8,96.30L69.9,96.29L71.9,96.28L73.9,96.25L75.9,96.20L77.9,96.15L79.9,96.08L81.9,96.00L83.9,95.92L85.9,95.81L87.9,95.70L89.9,95.57L91.9,95.44L93.9,95.29L95.9,95.13L97.9,94.97L99.9,94.79L101.9,94.61L103.9,94.41L105.9,94.21L107.9,94.01L109.9,93.79L111.9,93.57L113.9,93.35L115.9,93.13L117.9,92.90L119.9,92.69L121.9,92.47L123.9,92.27L125.9,92.07L127.9,91.89L129.9,91.72L131.9,91.56L133.9,91.42L135.9,91.29L137.9,91.17L139.9,91.06L141.9,90.96L143.9,90.86L145.9,90.77L147.9,90.68L149.9,90.60L151.9,90.52L153.9,90.44L155.9,90.36L157.9,90.28L159.9,90.20L161.9,90.12L164.0,90.04L166.0,89.96L168.0,89.88L170.0,89.80L172.0,89.72L174.0,89.63L176.0,89.55L178.0,89.47L180.0,89.39L182.0,89.30L184.0,89.22L186.0,89.15L188.0,89.07L190.0,89.00L192.0,88.93L194.0,88.87L196.0,88.80L198.0,88.74L200.0,88.67L202.0,88.61L204.0,88.54L206.0,88.47L208.0,88.40L210.0,88.32L212.0,88.24L214.0,88.16L216.0,88.07L218.0,87.99L220.0,87.91L222.0,87.82L224.0,87.74L226.0,87.67L228.0,87.60L230.0,87.54L232.0,87.48L234.0,87.43L236.0,87.38L238.0,87.33L240.0,87.29L242.0,87.25L244.0,87.20L246.0,87.16L248.0,87.12L250.0,87.08L252.0,87.03L254.0,86.99L256.0,86.94L258.1,86.89L260.1,86.84L262.1,86.79L264.1,86.73L266.1,86.68L268.1,86.63L270.1,86.57L272.1,86.52L274.1,86.47L276.1,86.42L278.1,86.37L280.1,86.32L282.1,86.27L284.1,86.22L286.1,86.18L288.1,86.14L290.1,86.10L292.1,86.07L294.1,86.03L296.1,86.00L298.1,85.98L300.1,85.95L302.1,85.93L304.1,85.91L306.1,85.89L308.1,85.88L310.1,85.86L312.1,85.85L314.1,85.83L316.1,85.82L318.1,85.81L320.1,85.80L322.1,85.79L324.1,85.78L326.1,85.77L328.1,85.76L330.1,85.75L332.1,85.74L334.1,85.73L336.1,85.73L338.1,85.72L340.1,85.71L342.1,85.71L344.1,85.71L346.1,85.70L348.1,85.70L350.1,85.70" fill="none" stroke="#27a8e1" stroke-width="3.30" stroke-linejoin="round" stroke-dasharray="12.2 5.3" stroke-linecap="butt" stroke-opacity="0.92"/>
<path d="M67.8,167.50L69.9,167.49L71.9,167.47L73.9,167.43L75.9,167.38L77.9,167.32L79.9,167.25L81.9,167.17L83.9,167.09L85.9,167.00L87.9,166.90L89.9,166.80L91.9,166.70L93.9,166.58L95.9,166.47L97.9,166.34L99.9,166.20L101.9,166.05L103.9,165.88L105.9,165.70L107.9,165.51L109.9,165.29L111.9,165.06L113.9,164.81L115.9,164.55L117.9,164.28L119.9,164.01L121.9,163.73L123.9,163.46L125.9,163.19L127.9,162.93L129.9,162.68L131.9,162.43L133.9,162.20L135.9,161.97L137.9,161.75L139.9,161.52L141.9,161.30L143.9,161.06L145.9,160.82L147.9,160.57L149.9,160.30L151.9,160.02L153.9,159.72L155.9,159.42L157.9,159.10L159.9,158.79L161.9,158.48L164.0,158.17L166.0,157.86L168.0,157.57L170.0,157.30L172.0,157.04L174.0,156.80L176.0,156.58L178.0,156.37L180.0,156.16L182.0,155.97L184.0,155.79L186.0,155.62L188.0,155.45L190.0,155.28L192.0,155.12L194.0,154.95L196.0,154.79L198.0,154.63L200.0,154.46L202.0,154.30L204.0,154.13L206.0,153.97L208.0,153.80L210.0,153.63L212.0,153.46L214.0,153.29L216.0,153.12L218.0,152.96L220.0,152.79L222.0,152.64L224.0,152.48L226.0,152.34L228.0,152.20L230.0,152.07L232.0,151.95L234.0,151.84L236.0,151.73L238.0,151.64L240.0,151.54L242.0,151.46L244.0,151.38L246.0,151.30L248.0,151.23L250.0,151.17L252.0,151.11L254.0,151.05L256.0,150.99L258.1,150.94L260.1,150.89L262.1,150.84L264.1,150.80L266.1,150.76L268.1,150.72L270.1,150.68L272.1,150.65L274.1,150.61L276.1,150.58L278.1,150.55L280.1,150.52L282.1,150.49L284.1,150.47L286.1,150.44L288.1,150.42L290.1,150.40L292.1,150.37L294.1,150.35L296.1,150.34L298.1,150.32L300.1,150.30L302.1,150.28L304.1,150.27L306.1,150.25L308.1,150.24L310.1,150.22L312.1,150.21L314.1,150.20L316.1,150.19L318.1,150.18L320.1,150.17L322.1,150.16L324.1,150.15L326.1,150.14L328.1,150.14L330.1,150.13L332.1,150.12L334.1,150.12L336.1,150.11L338.1,150.11L340.1,150.11L342.1,150.10L344.1,150.10L346.1,150.10L348.1,150.10L350.1,150.10" fill="none" stroke="#27a8e1" stroke-width="3.30" stroke-linejoin="round" stroke-dasharray="12.2 5.3" stroke-linecap="butt" stroke-opacity="0.92"/>
<path d="M67.8,22.00L69.9,21.99L71.9,21.94L73.9,21.88L75.9,21.80L77.9,21.71L79.9,21.60L81.9,21.50L83.9,21.39L85.9,21.29L87.9,21.20L89.9,21.12L91.9,21.06L93.9,21.00L95.9,20.96L97.9,20.92L99.9,20.89L101.9,20.87L103.9,20.85L105.9,20.83L107.9,20.81L109.9,20.79L111.9,20.77L113.9,20.75L115.9,20.73L117.9,20.70L119.9,20.68L121.9,20.65L123.9,20.63L125.9,20.60L127.9,20.58L129.9,20.56L131.9,20.53L133.9,20.51L135.9,20.49L137.9,20.47L139.9,20.45L141.9,20.44L143.9,20.43L145.9,20.41L147.9,20.41L149.9,20.40L151.9,20.40L153.9,20.40L155.9,20.40L157.9,20.41L159.9,20.41L161.9,20.43L164.0,20.44L166.0,20.45L168.0,20.47L170.0,20.49L172.0,20.51L174.0,20.53L176.0,20.55L178.0,20.58L180.0,20.60L182.0,20.63L184.0,20.66L186.0,20.69L188.0,20.71L190.0,20.74L192.0,20.77L194.0,20.80L196.0,20.83L198.0,20.86L200.0,20.89L202.0,20.92L204.0,20.95L206.0,20.97L208.0,21.00L210.0,21.03L212.0,21.05L214.0,21.07L216.0,21.10L218.0,21.12L220.0,21.14L222.0,21.16L224.0,21.18L226.0,21.20L228.0,21.22L230.0,21.23L232.0,21.25L234.0,21.27L236.0,21.28L238.0,21.30L240.0,21.31L242.0,21.33L244.0,21.34L246.0,21.36L248.0,21.37L250.0,21.38L252.0,21.40L254.0,21.41L256.0,21.42L258.1,21.43L260.1,21.45L262.1,21.46L264.1,21.47L266.1,21.48L268.1,21.49L270.1,21.51L272.1,21.52L274.1,21.53L276.1,21.54L278.1,21.55L280.1,21.57L282.1,21.58L284.1,21.59L286.1,21.60L288.1,21.61L290.1,21.62L292.1,21.63L294.1,21.64L296.1,21.65L298.1,21.66L300.1,21.67L302.1,21.68L304.1,21.68L306.1,21.69L308.1,21.70L310.1,21.70L312.1,21.70L314.1,21.71L316.1,21.71L318.1,21.71L320.1,21.71L322.1,21.71L324.1,21.71L326.1,21.71L328.1,21.71L330.1,21.71L332.1,21.71L334.1,21.71L336.1,21.71L338.1,21.71L340.1,21.70L342.1,21.70L344.1,21.70L346.1,21.70L348.1,21.70L350.1,21.70" fill="none" stroke="#1d88d6" stroke-width="3.30" stroke-linejoin="round" stroke-dasharray="12.2 5.3" stroke-linecap="butt" stroke-opacity="0.92"/>
<path d="M67.8,77.50L69.9,77.50L71.9,77.52L73.9,77.54L75.9,77.58L77.9,77.62L79.9,77.68L81.9,77.74L83.9,77.82L85.9,77.90L87.9,78.00L89.9,78.11L91.9,78.23L93.9,78.35L95.9,78.49L97.9,78.64L99.9,78.80L101.9,78.96L103.9,79.13L105.9,79.31L107.9,79.50L109.9,79.70L111.9,79.90L113.9,80.10L115.9,80.31L117.9,80.51L119.9,80.70L121.9,80.88L123.9,81.05L125.9,81.20L127.9,81.34L129.9,81.45L131.9,81.55L133.9,81.62L135.9,81.67L137.9,81.71L139.9,81.74L141.9,81.76L143.9,81.78L145.9,81.78L147.9,81.79L149.9,81.80L151.9,81.81L153.9,81.83L155.9,81.84L157.9,81.86L159.9,81.89L161.9,81.91L164.0,81.93L166.0,81.95L168.0,81.98L170.0,82.00L172.0,82.02L174.0,82.04L176.0,82.06L178.0,82.08L180.0,82.10L182.0,82.12L184.0,82.13L186.0,82.15L188.0,82.17L190.0,82.19L192.0,82.21L194.0,82.23L196.0,82.25L198.0,82.27L200.0,82.29L202.0,82.32L204.0,82.34L206.0,82.37L208.0,82.40L210.0,82.43L212.0,82.47L214.0,82.50L216.0,82.54L218.0,82.58L220.0,82.62L222.0,82.66L224.0,82.71L226.0,82.75L228.0,82.80L230.0,82.84L232.0,82.89L234.0,82.94L236.0,82.98L238.0,83.03L240.0,83.08L242.0,83.12L244.0,83.17L246.0,83.21L248.0,83.26L250.0,83.30L252.0,83.34L254.0,83.38L256.0,83.42L258.1,83.46L260.1,83.50L262.1,83.53L264.1,83.57L266.1,83.60L268.1,83.64L270.1,83.67L272.1,83.70L274.1,83.72L276.1,83.75L278.1,83.78L280.1,83.80L282.1,83.82L284.1,83.84L286.1,83.86L288.1,83.88L290.1,83.90L292.1,83.92L294.1,83.93L296.1,83.94L298.1,83.95L300.1,83.96L302.1,83.97L304.1,83.98L306.1,83.99L308.1,83.99L310.1,84.00L312.1,84.00L314.1,84.01L316.1,84.01L318.1,84.01L320.1,84.01L322.1,84.01L324.1,84.01L326.1,84.01L328.1,84.01L330.1,84.01L332.1,84.01L334.1,84.01L336.1,84.01L338.1,84.01L340.1,84.00L342.1,84.00L344.1,84.00L346.1,84.00L348.1,84.00L350.1,84.00" fill="none" stroke="#1d88d6" stroke-width="3.30" stroke-linejoin="round" stroke-dasharray="12.2 5.3" stroke-linecap="butt" stroke-opacity="0.92"/>
<path d="M67.8,143.00L69.9,143.00L71.9,143.01L73.9,143.02L75.9,143.04L77.9,143.06L79.9,143.09L81.9,143.12L83.9,143.15L85.9,143.19L87.9,143.23L89.9,143.27L91.9,143.32L93.9,143.37L95.9,143.42L97.9,143.47L99.9,143.53L101.9,143.59L103.9,143.65L105.9,143.71L107.9,143.77L109.9,143.83L111.9,143.90L113.9,143.96L115.9,144.03L117.9,144.09L119.9,144.16L121.9,144.23L123.9,144.30L125.9,144.37L127.9,144.43L129.9,144.50L131.9,144.57L133.9,144.64L135.9,144.71L137.9,144.78L139.9,144.85L141.9,144.92L143.9,144.99L145.9,145.06L147.9,145.13L149.9,145.20L151.9,145.27L153.9,145.34L155.9,145.40L157.9,145.47L159.9,145.54L161.9,145.60L164.0,145.67L166.0,145.73L168.0,145.80L170.0,145.86L172.0,145.93L174.0,145.99L176.0,146.05L178.0,146.12L180.0,146.18L182.0,146.24L184.0,146.30L186.0,146.36L188.0,146.42L190.0,146.48L192.0,146.54L194.0,146.60L196.0,146.66L198.0,146.72L200.0,146.77L202.0,146.83L204.0,146.89L206.0,146.94L208.0,147.00L210.0,147.06L212.0,147.11L214.0,147.16L216.0,147.22L218.0,147.27L220.0,147.32L222.0,147.38L224.0,147.43L226.0,147.48L228.0,147.53L230.0,147.58L232.0,147.63L234.0,147.67L236.0,147.72L238.0,147.77L240.0,147.81L242.0,147.85L244.0,147.90L246.0,147.94L248.0,147.98L250.0,148.02L252.0,148.06L254.0,148.10L256.0,148.13L258.1,148.17L260.1,148.20L262.1,148.23L264.1,148.27L266.1,148.30L268.1,148.33L270.1,148.36L272.1,148.38L274.1,148.41L276.1,148.44L278.1,148.46L280.1,148.49L282.1,148.51L284.1,148.54L286.1,148.56L288.1,148.58L290.1,148.60L292.1,148.62L294.1,148.64L296.1,148.66L298.1,148.68L300.1,148.69L302.1,148.71L304.1,148.73L306.1,148.74L308.1,148.75L310.1,148.77L312.1,148.78L314.1,148.79L316.1,148.81L318.1,148.82L320.1,148.83L322.1,148.84L324.1,148.85L326.1,148.85L328.1,148.86L330.1,148.87L332.1,148.87L334.1,148.88L336.1,148.88L338.1,148.89L340.1,148.89L342.1,148.89L344.1,148.90L346.1,148.90L348.1,148.90L350.1,148.90" fill="none" stroke="#1d88d6" stroke-width="3.30" stroke-linejoin="round" stroke-dasharray="12.2 5.3" stroke-linecap="butt" stroke-opacity="0.92"/>
</g>
<rect x="67.85" y="10.00" width="282.30" height="179.85" fill="none" stroke="#1e1e1e" stroke-width="1.3"/>
<line x1="67.85" y1="189.85" x2="67.85" y2="194.85" stroke="#1e1e1e" stroke-width="1.3"/>
<line x1="138.42" y1="189.85" x2="138.42" y2="194.85" stroke="#1e1e1e" stroke-width="1.3"/>
<line x1="209.00" y1="189.85" x2="209.00" y2="194.85" stroke="#1e1e1e" stroke-width="1.3"/>
<line x1="279.57" y1="189.85" x2="279.57" y2="194.85" stroke="#1e1e1e" stroke-width="1.3"/>
<line x1="350.15" y1="189.85" x2="350.15" y2="194.85" stroke="#1e1e1e" stroke-width="1.3"/>
<line x1="62.05" y1="176.20" x2="67.85" y2="176.20" stroke="#1e1e1e" stroke-width="1.3"/>
<line x1="62.05" y1="108.20" x2="67.85" y2="108.20" stroke="#1e1e1e" stroke-width="1.3"/>
<line x1="62.05" y1="40.20" x2="67.85" y2="40.20" stroke="#1e1e1e" stroke-width="1.3"/>
<text transform="translate(67.85,213.4) scale(1.200,1)" text-anchor="middle" class="tk">0</text>
<text transform="translate(138.42,213.4) scale(1.200,1)" text-anchor="middle" class="tk">5</text>
<text transform="translate(209.00,213.4) scale(1.200,1)" text-anchor="middle" class="tk">10</text>
<text transform="translate(279.57,213.4) scale(1.200,1)" text-anchor="middle" class="tk">15</text>
<text transform="translate(350.15,213.4) scale(1.200,1)" text-anchor="middle" class="tk">20</text>
<text x="174.70" y="236.4" class="al" style="font-style:italic">X</text>
<text x="187.40" y="238.1" class="al" style="font-style:italic;font-size:12.4px">T</text>
<text transform="translate(202.40,236.4) scale(1.22,1)" class="al">[nm]</text>
</g>
<g transform="translate(325.40,421.25)">
<g clip-path="url(#ca)">
<line x1="67.85" y1="23.90" x2="350.15" y2="23.90" stroke="#c0c0c0" stroke-width="2.4" stroke-dasharray="2.4 5.0" stroke-dashoffset="-1.1"/>
<line x1="67.85" y1="85.60" x2="350.15" y2="85.60" stroke="#c0c0c0" stroke-width="2.4" stroke-dasharray="2.4 5.0" stroke-dashoffset="-1.1"/>
<line x1="67.85" y1="148.90" x2="350.15" y2="148.90" stroke="#c0c0c0" stroke-width="2.4" stroke-dasharray="2.4 5.0" stroke-dashoffset="-1.1"/>
<path d="M67.8,22.00L69.9,21.98L71.9,21.93L73.9,21.85L75.9,21.75L77.9,21.63L79.9,21.51L81.9,21.37L83.9,21.24L85.9,21.11L87.9,21.00L89.9,20.90L91.9,20.82L93.9,20.75L95.9,20.69L97.9,20.65L99.9,20.61L101.9,20.58L103.9,20.55L105.9,20.53L107.9,20.51L109.9,20.49L111.9,20.46L113.9,20.43L115.9,20.40L117.9,20.36L119.9,20.31L121.9,20.26L123.9,20.20L125.9,20.14L127.9,20.09L129.9,20.03L131.9,19.97L133.9,19.92L135.9,19.87L137.9,19.83L139.9,19.80L141.9,19.78L143.9,19.76L145.9,19.75L147.9,19.75L149.9,19.76L151.9,19.77L153.9,19.79L155.9,19.81L157.9,19.83L159.9,19.86L161.9,19.89L164.0,19.91L166.0,19.94L168.0,19.97L170.0,20.00L172.0,20.03L174.0,20.05L176.0,20.07L178.0,20.09L180.0,20.11L182.0,20.13L184.0,20.15L186.0,20.17L188.0,20.18L190.0,20.20L192.0,20.22L194.0,20.24L196.0,20.26L198.0,20.28L200.0,20.30L202.0,20.32L204.0,20.35L206.0,20.37L208.0,20.40L210.0,20.43L212.0,20.45L214.0,20.48L216.0,20.51L218.0,20.54L220.0,20.57L222.0,20.59L224.0,20.62L226.0,20.65L228.0,20.67L230.0,20.70L232.0,20.72L234.0,20.75L236.0,20.77L238.0,20.79L240.0,20.81L242.0,20.83L244.0,20.85L246.0,20.87L248.0,20.89L250.0,20.91L252.0,20.92L254.0,20.94L256.0,20.96L258.1,20.98L260.1,21.00L262.1,21.02L264.1,21.04L266.1,21.06L268.1,21.08L270.1,21.10L272.1,21.12L274.1,21.14L276.1,21.16L278.1,21.18L280.1,21.21L282.1,21.23L284.1,21.24L286.1,21.26L288.1,21.28L290.1,21.30L292.1,21.32L294.1,21.33L296.1,21.35L298.1,21.36L300.1,21.38L302.1,21.39L304.1,21.41L306.1,21.42L308.1,21.43L310.1,21.44L312.1,21.46L314.1,21.47L316.1,21.48L318.1,21.49L320.1,21.50L322.1,21.51L324.1,21.52L326.1,21.53L328.1,21.54L330.1,21.55L332.1,21.56L334.1,21.57L336.1,21.57L338.1,21.58L340.1,21.59L342.1,21.59L344.1,21.59L346.1,21.60L348.1,21.60L350.1,21.60" fill="none" stroke="#bc6cc9" stroke-width="3.30" stroke-linejoin="round" stroke-linecap="butt" stroke-opacity="0.95"/>
<path d="M67.8,22.20L69.9,22.23L71.9,22.32L73.9,22.47L75.9,22.66L77.9,22.90L79.9,23.18L81.9,23.50L83.9,23.84L85.9,24.21L87.9,24.60L89.9,25.01L91.9,25.44L93.9,25.93L95.9,26.49L97.9,27.11L99.9,27.78L101.9,28.48L103.9,29.18L105.9,29.86L107.9,30.50L109.9,31.08L111.9,31.59L113.9,32.05L115.9,32.45L117.9,32.82L119.9,33.17L121.9,33.50L123.9,33.83L125.9,34.17L127.9,34.52L129.9,34.87L131.9,35.22L133.9,35.56L135.9,35.89L137.9,36.21L139.9,36.50L141.9,36.77L143.9,37.01L145.9,37.23L147.9,37.43L149.9,37.61L151.9,37.77L153.9,37.93L155.9,38.07L157.9,38.21L159.9,38.33L161.9,38.44L164.0,38.53L166.0,38.61L168.0,38.66L170.0,38.70L172.0,38.71L174.0,38.70L176.0,38.66L178.0,38.60L180.0,38.52L182.0,38.41L184.0,38.28L186.0,38.12L188.0,37.93L190.0,37.73L192.0,37.51L194.0,37.27L196.0,37.02L198.0,36.76L200.0,36.50L202.0,36.23L204.0,35.96L206.0,35.69L208.0,35.41L210.0,35.12L212.0,34.84L214.0,34.55L216.0,34.25L218.0,33.95L220.0,33.65L222.0,33.35L224.0,33.06L226.0,32.76L228.0,32.48L230.0,32.20L232.0,31.93L234.0,31.67L236.0,31.42L238.0,31.17L240.0,30.92L242.0,30.67L244.0,30.43L246.0,30.17L248.0,29.92L250.0,29.66L252.0,29.41L254.0,29.15L256.0,28.90L258.1,28.65L260.1,28.41L262.1,28.18L264.1,27.95L266.1,27.72L268.1,27.51L270.1,27.30L272.1,27.09L274.1,26.90L276.1,26.71L278.1,26.53L280.1,26.36L282.1,26.20L284.1,26.04L286.1,25.89L288.1,25.74L290.1,25.60L292.1,25.47L294.1,25.34L296.1,25.22L298.1,25.11L300.1,25.00L302.1,24.90L304.1,24.81L306.1,24.73L308.1,24.66L310.1,24.59L312.1,24.52L314.1,24.46L316.1,24.40L318.1,24.35L320.1,24.30L322.1,24.25L324.1,24.20L326.1,24.15L328.1,24.11L330.1,24.06L332.1,24.02L334.1,23.98L336.1,23.94L338.1,23.91L340.1,23.88L342.1,23.85L344.1,23.83L346.1,23.81L348.1,23.80L350.1,23.80" fill="none" stroke="#bc6cc9" stroke-width="3.30" stroke-linejoin="round" stroke-linecap="butt" stroke-opacity="0.95"/>
<path d="M67.8,77.30L69.9,77.31L71.9,77.35L73.9,77.41L75.9,77.50L77.9,77.60L79.9,77.72L81.9,77.85L83.9,77.99L85.9,78.15L87.9,78.31L89.9,78.48L91.9,78.65L93.9,78.83L95.9,79.00L97.9,79.17L99.9,79.34L101.9,79.51L103.9,79.67L105.9,79.83L107.9,79.98L109.9,80.14L111.9,80.28L113.9,80.43L115.9,80.57L117.9,80.70L119.9,80.83L121.9,80.96L123.9,81.08L125.9,81.20L127.9,81.31L129.9,81.42L131.9,81.52L133.9,81.61L135.9,81.71L137.9,81.79L139.9,81.87L141.9,81.94L143.9,82.01L145.9,82.07L147.9,82.13L149.9,82.18L151.9,82.23L153.9,82.27L155.9,82.30L157.9,82.33L159.9,82.35L161.9,82.37L164.0,82.38L166.0,82.39L168.0,82.39L170.0,82.40L172.0,82.40L174.0,82.40L176.0,82.40L178.0,82.40L180.0,82.40L182.0,82.40L184.0,82.40L186.0,82.40L188.0,82.41L190.0,82.41L192.0,82.42L194.0,82.44L196.0,82.45L198.0,82.47L200.0,82.49L202.0,82.51L204.0,82.53L206.0,82.56L208.0,82.58L210.0,82.61L212.0,82.64L214.0,82.67L216.0,82.70L218.0,82.73L220.0,82.76L222.0,82.80L224.0,82.83L226.0,82.87L228.0,82.90L230.0,82.94L232.0,82.97L234.0,83.01L236.0,83.04L238.0,83.07L240.0,83.11L242.0,83.14L244.0,83.17L246.0,83.20L248.0,83.23L250.0,83.26L252.0,83.28L254.0,83.31L256.0,83.33L258.1,83.36L260.1,83.38L262.1,83.41L264.1,83.43L266.1,83.46L268.1,83.49L270.1,83.51L272.1,83.54L274.1,83.57L276.1,83.60L278.1,83.63L280.1,83.67L282.1,83.70L284.1,83.73L286.1,83.77L288.1,83.81L290.1,83.84L292.1,83.88L294.1,83.91L296.1,83.95L298.1,83.98L300.1,84.01L302.1,84.04L304.1,84.07L306.1,84.10L308.1,84.12L310.1,84.15L312.1,84.17L314.1,84.19L316.1,84.20L318.1,84.22L320.1,84.23L322.1,84.24L324.1,84.25L326.1,84.26L328.1,84.27L330.1,84.28L332.1,84.28L334.1,84.29L336.1,84.29L338.1,84.29L340.1,84.30L342.1,84.30L344.1,84.30L346.1,84.30L348.1,84.30L350.1,84.30" fill="none" stroke="#bc6cc9" stroke-width="3.30" stroke-linejoin="round" stroke-linecap="butt" stroke-opacity="0.95"/>
<path d="M67.8,102.60L69.9,102.59L71.9,102.58L73.9,102.54L75.9,102.50L77.9,102.44L79.9,102.36L81.9,102.28L83.9,102.17L85.9,102.05L87.9,101.92L89.9,101.76L91.9,101.59L93.9,101.41L95.9,101.20L97.9,100.98L99.9,100.74L101.9,100.48L103.9,100.22L105.9,99.94L107.9,99.66L109.9,99.38L111.9,99.09L113.9,98.80L115.9,98.51L117.9,98.23L119.9,97.96L121.9,97.69L123.9,97.44L125.9,97.20L127.9,96.98L129.9,96.77L131.9,96.57L133.9,96.39L135.9,96.23L137.9,96.07L139.9,95.92L141.9,95.79L143.9,95.66L145.9,95.53L147.9,95.42L149.9,95.31L151.9,95.20L153.9,95.10L155.9,95.00L157.9,94.90L159.9,94.80L161.9,94.71L164.0,94.61L166.0,94.51L168.0,94.42L170.0,94.32L172.0,94.22L174.0,94.12L176.0,94.02L178.0,93.92L180.0,93.82L182.0,93.72L184.0,93.61L186.0,93.50L188.0,93.39L190.0,93.28L192.0,93.16L194.0,93.04L196.0,92.92L198.0,92.80L200.0,92.68L202.0,92.56L204.0,92.43L206.0,92.31L208.0,92.19L210.0,92.07L212.0,91.94L214.0,91.82L216.0,91.70L218.0,91.58L220.0,91.46L222.0,91.34L224.0,91.23L226.0,91.11L228.0,91.00L230.0,90.89L232.0,90.77L234.0,90.66L236.0,90.55L238.0,90.44L240.0,90.33L242.0,90.22L244.0,90.11L246.0,90.00L248.0,89.89L250.0,89.78L252.0,89.67L254.0,89.57L256.0,89.46L258.1,89.35L260.1,89.24L262.1,89.14L264.1,89.03L266.1,88.93L268.1,88.82L270.1,88.71L272.1,88.61L274.1,88.50L276.1,88.40L278.1,88.30L280.1,88.19L282.1,88.09L284.1,87.99L286.1,87.89L288.1,87.79L290.1,87.69L292.1,87.60L294.1,87.50L296.1,87.41L298.1,87.32L300.1,87.24L302.1,87.16L304.1,87.08L306.1,87.00L308.1,86.93L310.1,86.86L312.1,86.79L314.1,86.73L316.1,86.67L318.1,86.61L320.1,86.55L322.1,86.50L324.1,86.45L326.1,86.40L328.1,86.35L330.1,86.30L332.1,86.25L334.1,86.21L336.1,86.17L338.1,86.13L340.1,86.09L342.1,86.06L344.1,86.03L346.1,86.02L348.1,86.00L350.1,86.00" fill="none" stroke="#bc6cc9" stroke-width="3.30" stroke-linejoin="round" stroke-linecap="butt" stroke-opacity="0.95"/>
<path d="M67.8,143.20L69.9,143.20L71.9,143.21L73.9,143.22L75.9,143.24L77.9,143.27L79.9,143.30L81.9,143.34L83.9,143.38L85.9,143.43L87.9,143.49L89.9,143.56L91.9,143.63L93.9,143.71L95.9,143.80L97.9,143.90L99.9,144.00L101.9,144.11L103.9,144.23L105.9,144.35L107.9,144.47L109.9,144.60L111.9,144.73L113.9,144.86L115.9,144.99L117.9,145.12L119.9,145.24L121.9,145.37L123.9,145.49L125.9,145.60L127.9,145.71L129.9,145.81L131.9,145.91L133.9,146.00L135.9,146.09L137.9,146.17L139.9,146.25L141.9,146.32L143.9,146.39L145.9,146.45L147.9,146.51L149.9,146.56L151.9,146.61L153.9,146.66L155.9,146.70L157.9,146.74L159.9,146.77L161.9,146.80L164.0,146.83L166.0,146.85L168.0,146.88L170.0,146.90L172.0,146.92L174.0,146.94L176.0,146.97L178.0,146.99L180.0,147.01L182.0,147.04L184.0,147.07L186.0,147.10L188.0,147.13L190.0,147.17L192.0,147.21L194.0,147.25L196.0,147.30L198.0,147.35L200.0,147.39L202.0,147.44L204.0,147.49L206.0,147.54L208.0,147.60L210.0,147.65L212.0,147.70L214.0,147.75L216.0,147.80L218.0,147.85L220.0,147.90L222.0,147.94L224.0,147.99L226.0,148.03L228.0,148.08L230.0,148.12L232.0,148.16L234.0,148.20L236.0,148.24L238.0,148.27L240.0,148.31L242.0,148.34L244.0,148.37L246.0,148.40L248.0,148.43L250.0,148.45L252.0,148.48L254.0,148.50L256.0,148.52L258.1,148.55L260.1,148.57L262.1,148.58L264.1,148.60L266.1,148.62L268.1,148.64L270.1,148.65L272.1,148.67L274.1,148.68L276.1,148.70L278.1,148.72L280.1,148.73L282.1,148.75L284.1,148.76L286.1,148.77L288.1,148.79L290.1,148.80L292.1,148.82L294.1,148.83L296.1,148.84L298.1,148.86L300.1,148.87L302.1,148.88L304.1,148.89L306.1,148.90L308.1,148.91L310.1,148.92L312.1,148.93L314.1,148.94L316.1,148.94L318.1,148.95L320.1,148.96L322.1,148.96L324.1,148.97L326.1,148.97L328.1,148.98L330.1,148.98L332.1,148.99L334.1,148.99L336.1,148.99L338.1,148.99L340.1,149.00L342.1,149.00L344.1,149.00L346.1,149.00L348.1,149.00L350.1,149.00" fill="none" stroke="#bc6cc9" stroke-width="3.30" stroke-linejoin="round" stroke-linecap="butt" stroke-opacity="0.95"/>
<path d="M67.8,180.80L69.9,180.79L71.9,180.75L73.9,180.69L75.9,180.61L77.9,180.51L79.9,180.40L81.9,180.26L83.9,180.12L85.9,179.97L87.9,179.80L89.9,179.63L91.9,179.44L93.9,179.25L95.9,179.04L97.9,178.82L99.9,178.59L101.9,178.34L103.9,178.07L105.9,177.78L107.9,177.46L109.9,177.13L111.9,176.77L113.9,176.40L115.9,176.00L117.9,175.59L119.9,175.17L121.9,174.74L123.9,174.30L125.9,173.86L127.9,173.42L129.9,172.98L131.9,172.54L133.9,172.10L135.9,171.67L137.9,171.23L139.9,170.80L141.9,170.36L143.9,169.92L145.9,169.49L147.9,169.04L149.9,168.60L151.9,168.15L153.9,167.70L155.9,167.25L157.9,166.80L159.9,166.34L161.9,165.89L164.0,165.44L166.0,164.99L168.0,164.54L170.0,164.10L172.0,163.66L174.0,163.23L176.0,162.80L178.0,162.38L180.0,161.97L182.0,161.56L184.0,161.15L186.0,160.76L188.0,160.37L190.0,159.99L192.0,159.61L194.0,159.25L196.0,158.89L198.0,158.54L200.0,158.19L202.0,157.85L204.0,157.52L206.0,157.19L208.0,156.87L210.0,156.56L212.0,156.25L214.0,155.94L216.0,155.64L218.0,155.35L220.0,155.07L222.0,154.80L224.0,154.53L226.0,154.28L228.0,154.04L230.0,153.81L232.0,153.59L234.0,153.39L236.0,153.20L238.0,153.02L240.0,152.85L242.0,152.69L244.0,152.54L246.0,152.39L248.0,152.26L250.0,152.13L252.0,152.00L254.0,151.88L256.0,151.76L258.1,151.65L260.1,151.54L262.1,151.44L264.1,151.34L266.1,151.25L268.1,151.16L270.1,151.08L272.1,151.00L274.1,150.93L276.1,150.86L278.1,150.80L280.1,150.75L282.1,150.70L284.1,150.65L286.1,150.61L288.1,150.57L290.1,150.53L292.1,150.50L294.1,150.47L296.1,150.45L298.1,150.42L300.1,150.40L302.1,150.38L304.1,150.36L306.1,150.35L308.1,150.33L310.1,150.32L312.1,150.30L314.1,150.29L316.1,150.28L318.1,150.27L320.1,150.26L322.1,150.25L324.1,150.24L326.1,150.22L328.1,150.21L330.1,150.20L332.1,150.19L334.1,150.17L336.1,150.16L338.1,150.15L340.1,150.13L342.1,150.12L344.1,150.11L346.1,150.11L348.1,150.10L350.1,150.10" fill="none" stroke="#bc6cc9" stroke-width="3.30" stroke-linejoin="round" stroke-linecap="butt" stroke-opacity="0.95"/>
<path d="M67.8,24.60L69.9,24.62L71.9,24.68L73.9,24.78L75.9,24.90L77.9,25.04L79.9,25.20L81.9,25.37L83.9,25.55L85.9,25.73L87.9,25.92L89.9,26.11L91.9,26.31L93.9,26.50L95.9,26.70L97.9,26.89L99.9,27.08L101.9,27.29L103.9,27.50L105.9,27.72L107.9,27.96L109.9,28.22L111.9,28.50L113.9,28.81L115.9,29.13L117.9,29.46L119.9,29.80L121.9,30.13L123.9,30.45L125.9,30.75L127.9,31.02L129.9,31.27L131.9,31.50L133.9,31.71L135.9,31.89L137.9,32.06L139.9,32.20L141.9,32.33L143.9,32.43L145.9,32.53L147.9,32.60L149.9,32.66L151.9,32.71L153.9,32.75L155.9,32.78L157.9,32.79L159.9,32.80L161.9,32.80L164.0,32.79L166.0,32.78L168.0,32.76L170.0,32.73L172.0,32.69L174.0,32.64L176.0,32.58L178.0,32.52L180.0,32.44L182.0,32.36L184.0,32.26L186.0,32.16L188.0,32.05L190.0,31.93L192.0,31.81L194.0,31.68L196.0,31.55L198.0,31.42L200.0,31.28L202.0,31.14L204.0,31.00L206.0,30.86L208.0,30.73L210.0,30.59L212.0,30.46L214.0,30.33L216.0,30.20L218.0,30.08L220.0,29.96L222.0,29.85L224.0,29.74L226.0,29.63L228.0,29.53L230.0,29.42L232.0,29.32L234.0,29.22L236.0,29.11L238.0,29.00L240.0,28.89L242.0,28.78L244.0,28.66L246.0,28.53L248.0,28.41L250.0,28.27L252.0,28.13L254.0,27.98L256.0,27.83L258.1,27.67L260.1,27.51L262.1,27.36L264.1,27.21L266.1,27.06L268.1,26.93L270.1,26.80L272.1,26.68L274.1,26.58L276.1,26.48L278.1,26.39L280.1,26.31L282.1,26.24L284.1,26.18L286.1,26.11L288.1,26.06L290.1,26.00L292.1,25.95L294.1,25.90L296.1,25.85L298.1,25.80L300.1,25.75L302.1,25.71L304.1,25.67L306.1,25.63L308.1,25.59L310.1,25.55L312.1,25.52L314.1,25.49L316.1,25.46L318.1,25.43L320.1,25.40L322.1,25.37L324.1,25.35L326.1,25.33L328.1,25.31L330.1,25.29L332.1,25.27L334.1,25.26L336.1,25.24L338.1,25.23L340.1,25.22L342.1,25.21L344.1,25.21L346.1,25.20L348.1,25.20L350.1,25.20" fill="none" stroke="#27a8e1" stroke-width="3.30" stroke-linejoin="round" stroke-dasharray="21.1 5.3 3.3 5.3" stroke-linecap="butt" stroke-opacity="0.92"/>
<path d="M67.8,96.70L69.9,96.69L71.9,96.66L73.9,96.62L75.9,96.56L77.9,96.48L79.9,96.39L81.9,96.28L83.9,96.17L85.9,96.04L87.9,95.90L89.9,95.75L91.9,95.60L93.9,95.43L95.9,95.25L97.9,95.07L99.9,94.88L101.9,94.68L103.9,94.46L105.9,94.25L107.9,94.02L109.9,93.78L111.9,93.54L113.9,93.29L115.9,93.04L117.9,92.79L119.9,92.55L121.9,92.32L123.9,92.09L125.9,91.88L127.9,91.69L129.9,91.52L131.9,91.36L133.9,91.23L135.9,91.11L137.9,91.01L139.9,90.92L141.9,90.84L143.9,90.77L145.9,90.71L147.9,90.65L149.9,90.60L151.9,90.55L153.9,90.50L155.9,90.46L157.9,90.41L159.9,90.37L161.9,90.33L164.0,90.30L166.0,90.26L168.0,90.23L170.0,90.20L172.0,90.17L174.0,90.14L176.0,90.12L178.0,90.09L180.0,90.05L182.0,90.02L184.0,89.97L186.0,89.93L188.0,89.87L190.0,89.80L192.0,89.72L194.0,89.64L196.0,89.54L198.0,89.44L200.0,89.33L202.0,89.23L204.0,89.12L206.0,89.01L208.0,88.90L210.0,88.80L212.0,88.70L214.0,88.60L216.0,88.50L218.0,88.41L220.0,88.32L222.0,88.24L224.0,88.16L226.0,88.08L228.0,88.00L230.0,87.93L232.0,87.85L234.0,87.78L236.0,87.72L238.0,87.65L240.0,87.58L242.0,87.52L244.0,87.46L246.0,87.39L248.0,87.33L250.0,87.27L252.0,87.21L254.0,87.15L256.0,87.08L258.1,87.02L260.1,86.96L262.1,86.90L264.1,86.84L266.1,86.79L268.1,86.73L270.1,86.67L272.1,86.62L274.1,86.56L276.1,86.51L278.1,86.46L280.1,86.41L282.1,86.36L284.1,86.32L286.1,86.28L288.1,86.24L290.1,86.20L292.1,86.17L294.1,86.13L296.1,86.11L298.1,86.08L300.1,86.06L302.1,86.03L304.1,86.01L306.1,86.00L308.1,85.98L310.1,85.96L312.1,85.95L314.1,85.94L316.1,85.92L318.1,85.91L320.1,85.90L322.1,85.89L324.1,85.88L326.1,85.87L328.1,85.86L330.1,85.85L332.1,85.84L334.1,85.83L336.1,85.83L338.1,85.82L340.1,85.81L342.1,85.81L344.1,85.81L346.1,85.80L348.1,85.80L350.1,85.80" fill="none" stroke="#27a8e1" stroke-width="3.30" stroke-linejoin="round" stroke-dasharray="21.1 5.3 3.3 5.3" stroke-linecap="butt" stroke-opacity="0.92"/>
<path d="M67.8,166.90L69.9,166.90L71.9,166.89L73.9,166.87L75.9,166.85L77.9,166.81L79.9,166.77L81.9,166.72L83.9,166.66L85.9,166.59L87.9,166.50L89.9,166.40L91.9,166.29L93.9,166.17L95.9,166.03L97.9,165.88L99.9,165.71L101.9,165.54L103.9,165.34L105.9,165.14L107.9,164.92L109.9,164.68L111.9,164.43L113.9,164.17L115.9,163.90L117.9,163.62L119.9,163.33L121.9,163.04L123.9,162.74L125.9,162.45L127.9,162.15L129.9,161.85L131.9,161.56L133.9,161.27L135.9,160.98L137.9,160.69L139.9,160.40L141.9,160.10L143.9,159.81L145.9,159.51L147.9,159.21L149.9,158.90L151.9,158.59L153.9,158.27L155.9,157.95L157.9,157.64L159.9,157.32L161.9,157.00L164.0,156.69L166.0,156.39L168.0,156.09L170.0,155.80L172.0,155.52L174.0,155.25L176.0,154.99L178.0,154.74L180.0,154.49L182.0,154.25L184.0,154.01L186.0,153.78L188.0,153.55L190.0,153.32L192.0,153.08L194.0,152.85L196.0,152.62L198.0,152.39L200.0,152.17L202.0,151.94L204.0,151.72L206.0,151.51L208.0,151.30L210.0,151.10L212.0,150.90L214.0,150.72L216.0,150.54L218.0,150.36L220.0,150.20L222.0,150.04L224.0,149.88L226.0,149.74L228.0,149.60L230.0,149.47L232.0,149.34L234.0,149.22L236.0,149.11L238.0,149.00L240.0,148.90L242.0,148.80L244.0,148.71L246.0,148.62L248.0,148.54L250.0,148.46L252.0,148.39L254.0,148.32L256.0,148.25L258.1,148.19L260.1,148.13L262.1,148.07L264.1,148.02L266.1,147.97L268.1,147.92L270.1,147.88L272.1,147.84L274.1,147.80L276.1,147.77L278.1,147.74L280.1,147.71L282.1,147.68L284.1,147.65L286.1,147.63L288.1,147.61L290.1,147.59L292.1,147.57L294.1,147.55L296.1,147.53L298.1,147.52L300.1,147.50L302.1,147.49L304.1,147.47L306.1,147.46L308.1,147.44L310.1,147.43L312.1,147.42L314.1,147.41L316.1,147.40L318.1,147.38L320.1,147.37L322.1,147.37L324.1,147.36L326.1,147.35L328.1,147.34L330.1,147.33L332.1,147.33L334.1,147.32L336.1,147.32L338.1,147.31L340.1,147.31L342.1,147.31L344.1,147.30L346.1,147.30L348.1,147.30L350.1,147.30" fill="none" stroke="#27a8e1" stroke-width="3.30" stroke-linejoin="round" stroke-dasharray="21.1 5.3 3.3 5.3" stroke-linecap="butt" stroke-opacity="0.92"/>
<path d="M67.8,23.20L69.9,23.19L71.9,23.18L73.9,23.15L75.9,23.11L77.9,23.07L79.9,23.02L81.9,22.97L83.9,22.91L85.9,22.86L87.9,22.80L89.9,22.75L91.9,22.69L93.9,22.64L95.9,22.59L97.9,22.54L99.9,22.49L101.9,22.44L103.9,22.39L105.9,22.35L107.9,22.30L109.9,22.25L111.9,22.20L113.9,22.15L115.9,22.10L117.9,22.05L119.9,22.00L121.9,21.95L123.9,21.90L125.9,21.85L127.9,21.81L129.9,21.76L131.9,21.72L133.9,21.68L135.9,21.64L137.9,21.61L139.9,21.58L141.9,21.55L143.9,21.53L145.9,21.51L147.9,21.49L149.9,21.48L151.9,21.48L153.9,21.48L155.9,21.48L157.9,21.49L159.9,21.50L161.9,21.51L164.0,21.53L166.0,21.54L168.0,21.56L170.0,21.58L172.0,21.60L174.0,21.62L176.0,21.65L178.0,21.67L180.0,21.69L182.0,21.71L184.0,21.73L186.0,21.75L188.0,21.77L190.0,21.79L192.0,21.80L194.0,21.82L196.0,21.84L198.0,21.85L200.0,21.87L202.0,21.89L204.0,21.90L206.0,21.92L208.0,21.93L210.0,21.95L212.0,21.97L214.0,21.98L216.0,22.00L218.0,22.02L220.0,22.03L222.0,22.05L224.0,22.07L226.0,22.09L228.0,22.11L230.0,22.13L232.0,22.15L234.0,22.17L236.0,22.19L238.0,22.21L240.0,22.24L242.0,22.26L244.0,22.28L246.0,22.31L248.0,22.33L250.0,22.36L252.0,22.39L254.0,22.41L256.0,22.44L258.1,22.47L260.1,22.50L262.1,22.53L264.1,22.56L266.1,22.59L268.1,22.63L270.1,22.66L272.1,22.69L274.1,22.73L276.1,22.76L278.1,22.80L280.1,22.83L282.1,22.87L284.1,22.91L286.1,22.94L288.1,22.98L290.1,23.02L292.1,23.05L294.1,23.09L296.1,23.13L298.1,23.16L300.1,23.20L302.1,23.24L304.1,23.27L306.1,23.31L308.1,23.35L310.1,23.38L312.1,23.41L314.1,23.45L316.1,23.48L318.1,23.51L320.1,23.54L322.1,23.57L324.1,23.60L326.1,23.63L328.1,23.65L330.1,23.68L332.1,23.70L334.1,23.72L336.1,23.74L338.1,23.75L340.1,23.77L342.1,23.78L344.1,23.79L346.1,23.79L348.1,23.80L350.1,23.80" fill="none" stroke="#2298da" stroke-width="3.30" stroke-linejoin="round" stroke-dasharray="21.1 5.3 3.3 5.3" stroke-linecap="butt" stroke-opacity="0.92"/>
<path d="M67.8,76.90L69.9,76.91L71.9,76.93L73.9,76.97L75.9,77.01L77.9,77.07L79.9,77.14L81.9,77.22L83.9,77.31L85.9,77.40L87.9,77.50L89.9,77.60L91.9,77.72L93.9,77.83L95.9,77.96L97.9,78.09L99.9,78.23L101.9,78.38L103.9,78.54L105.9,78.72L107.9,78.90L109.9,79.10L111.9,79.31L113.9,79.53L115.9,79.75L117.9,79.97L119.9,80.18L121.9,80.39L123.9,80.59L125.9,80.77L127.9,80.93L129.9,81.07L131.9,81.18L133.9,81.27L135.9,81.35L137.9,81.41L139.9,81.45L141.9,81.49L143.9,81.52L145.9,81.55L147.9,81.57L149.9,81.60L151.9,81.63L153.9,81.67L155.9,81.71L157.9,81.75L159.9,81.79L161.9,81.84L164.0,81.88L166.0,81.92L168.0,81.96L170.0,82.00L172.0,82.03L174.0,82.06L176.0,82.09L178.0,82.12L180.0,82.14L182.0,82.16L184.0,82.18L186.0,82.19L188.0,82.21L190.0,82.23L192.0,82.24L194.0,82.26L196.0,82.27L198.0,82.29L200.0,82.31L202.0,82.33L204.0,82.35L206.0,82.37L208.0,82.40L210.0,82.43L212.0,82.46L214.0,82.50L216.0,82.53L218.0,82.57L220.0,82.61L222.0,82.65L224.0,82.70L226.0,82.74L228.0,82.79L230.0,82.83L232.0,82.88L234.0,82.93L236.0,82.98L238.0,83.03L240.0,83.07L242.0,83.12L244.0,83.17L246.0,83.21L248.0,83.26L250.0,83.30L252.0,83.34L254.0,83.38L256.0,83.42L258.1,83.46L260.1,83.49L262.1,83.53L264.1,83.56L266.1,83.59L268.1,83.63L270.1,83.66L272.1,83.68L274.1,83.71L276.1,83.74L278.1,83.76L280.1,83.79L282.1,83.81L284.1,83.84L286.1,83.86L288.1,83.88L290.1,83.90L292.1,83.92L294.1,83.94L296.1,83.96L298.1,83.98L300.1,83.99L302.1,84.01L304.1,84.02L306.1,84.04L308.1,84.05L310.1,84.07L312.1,84.08L314.1,84.09L316.1,84.10L318.1,84.12L320.1,84.13L322.1,84.14L324.1,84.14L326.1,84.15L328.1,84.16L330.1,84.17L332.1,84.17L334.1,84.18L336.1,84.18L338.1,84.19L340.1,84.19L342.1,84.19L344.1,84.20L346.1,84.20L348.1,84.20L350.1,84.20" fill="none" stroke="#1d88d6" stroke-width="3.30" stroke-linejoin="round" stroke-dasharray="21.1 5.3 3.3 5.3" stroke-linecap="butt" stroke-opacity="0.92"/>
<path d="M67.8,139.50L69.9,139.51L71.9,139.53L73.9,139.57L75.9,139.62L77.9,139.69L79.9,139.76L81.9,139.85L83.9,139.95L85.9,140.05L87.9,140.16L89.9,140.28L91.9,140.40L93.9,140.53L95.9,140.66L97.9,140.79L99.9,140.92L101.9,141.06L103.9,141.19L105.9,141.32L107.9,141.44L109.9,141.56L111.9,141.67L113.9,141.78L115.9,141.89L117.9,141.99L119.9,142.09L121.9,142.19L123.9,142.28L125.9,142.37L127.9,142.46L129.9,142.54L131.9,142.63L133.9,142.71L135.9,142.79L137.9,142.87L139.9,142.95L141.9,143.03L143.9,143.11L145.9,143.18L147.9,143.26L149.9,143.33L151.9,143.40L153.9,143.47L155.9,143.54L157.9,143.61L159.9,143.68L161.9,143.74L164.0,143.81L166.0,143.87L168.0,143.94L170.0,144.00L172.0,144.06L174.0,144.12L176.0,144.18L178.0,144.24L180.0,144.30L182.0,144.36L184.0,144.41L186.0,144.47L188.0,144.52L190.0,144.58L192.0,144.63L194.0,144.68L196.0,144.73L198.0,144.78L200.0,144.82L202.0,144.87L204.0,144.92L206.0,144.96L208.0,145.00L210.0,145.04L212.0,145.08L214.0,145.12L216.0,145.15L218.0,145.19L220.0,145.22L222.0,145.25L224.0,145.29L226.0,145.32L228.0,145.35L230.0,145.37L232.0,145.40L234.0,145.43L236.0,145.45L238.0,145.48L240.0,145.50L242.0,145.52L244.0,145.55L246.0,145.57L248.0,145.59L250.0,145.61L252.0,145.63L254.0,145.65L256.0,145.67L258.1,145.69L260.1,145.70L262.1,145.72L264.1,145.74L266.1,145.75L268.1,145.77L270.1,145.78L272.1,145.80L274.1,145.81L276.1,145.82L278.1,145.84L280.1,145.85L282.1,145.86L284.1,145.87L286.1,145.88L288.1,145.89L290.1,145.90L292.1,145.91L294.1,145.92L296.1,145.92L298.1,145.93L300.1,145.94L302.1,145.94L304.1,145.95L306.1,145.96L308.1,145.96L310.1,145.97L312.1,145.97L314.1,145.97L316.1,145.98L318.1,145.98L320.1,145.98L322.1,145.99L324.1,145.99L326.1,145.99L328.1,145.99L330.1,145.99L332.1,146.00L334.1,146.00L336.1,146.00L338.1,146.00L340.1,146.00L342.1,146.00L344.1,146.00L346.1,146.00L348.1,146.00L350.1,146.00" fill="none" stroke="#27a8e1" stroke-width="3.30" stroke-linejoin="round" stroke-dasharray="21.1 5.3 3.3 5.3" stroke-linecap="butt" stroke-opacity="0.92"/>
</g>
<rect x="67.85" y="10.00" width="282.30" height="179.85" fill="none" stroke="#1e1e1e" stroke-width="1.3"/>
<line x1="67.85" y1="189.85" x2="67.85" y2="194.85" stroke="#1e1e1e" stroke-width="1.3"/>
<line x1="138.42" y1="189.85" x2="138.42" y2="194.85" stroke="#1e1e1e" stroke-width="1.3"/>
<line x1="209.00" y1="189.85" x2="209.00" y2="194.85" stroke="#1e1e1e" stroke-width="1.3"/>
<line x1="279.57" y1="189.85" x2="279.57" y2="194.85" stroke="#1e1e1e" stroke-width="1.3"/>
<line x1="350.15" y1="189.85" x2="350.15" y2="194.85" stroke="#1e1e1e" stroke-width="1.3"/>
<text transform="translate(67.85,213.4) scale(1.200,1)" text-anchor="middle" class="tk">0</text>
<text transform="translate(138.42,213.4) scale(1.200,1)" text-anchor="middle" class="tk">5</text>
<text transform="translate(209.00,213.4) scale(1.200,1)" text-anchor="middle" class="tk">10</text>
<text transform="translate(279.57,213.4) scale(1.200,1)" text-anchor="middle" class="tk">15</text>
<text transform="translate(350.15,213.4) scale(1.200,1)" text-anchor="middle" class="tk">20</text>
<text x="174.70" y="236.4" class="al" style="font-style:italic">X</text>
<text x="187.40" y="238.1" class="al" style="font-style:italic;font-size:12.4px">T</text>
<text transform="translate(202.40,236.4) scale(1.22,1)" class="al">[nm]</text>
</g>
<text transform="translate(56.0,183.00) scale(1.200,1)" text-anchor="end" class="tk">100</text>
<text transform="translate(56.0,115.00) scale(1.200,1)" text-anchor="end" class="tk">120</text>
<text transform="translate(56.0,47.00) scale(1.200,1)" text-anchor="end" class="tk">140</text>
<text transform="translate(15.3,99.10) rotate(-90) scale(1.175,1)" text-anchor="middle" class="al">energy [meV]</text>
<text transform="translate(56.0,604.25) scale(1.200,1)" text-anchor="end" class="tk">100</text>
<text transform="translate(56.0,536.25) scale(1.200,1)" text-anchor="end" class="tk">120</text>
<text transform="translate(56.0,468.25) scale(1.200,1)" text-anchor="end" class="tk">140</text>
<text transform="translate(15.3,520.35) rotate(-90) scale(1.175,1)" text-anchor="middle" class="al">energy [meV]</text>
<text transform="translate(0,25.6) scale(0.93,1)" class="pl">a</text>
<text x="359" y="25.2" class="pl">b</text>
<text x="-0.8" y="448" class="pl">c</text>
<text x="358.5" y="448" class="pl">d</text>
<rect x="190.70" y="104.50" width="150.30" height="27.60" rx="3" ry="3" fill="#fff" fill-opacity="0.8" stroke="#c8c8c8" stroke-width="1.3"/><line x1="196.90" y1="117.40" x2="229.00" y2="117.40" stroke="#27a8e1" stroke-width="3.30" stroke-linecap="square"/><text transform="translate(241.80,123.30) scale(1.120,1)" class="lg">MLP (10NN)</text>
<rect x="564.50" y="104.30" width="104.90" height="28.00" rx="3" ry="3" fill="#fff" fill-opacity="0.8" stroke="#c8c8c8" stroke-width="1.3"/><line x1="570.70" y1="117.40" x2="602.80" y2="117.40" stroke="#30d27f" stroke-width="3.30" stroke-linecap="square"/><text transform="translate(615.30,123.50) scale(1.190,1)" class="lg">Slater</text>
<rect x="199.90" y="525.40" width="141.70" height="28.00" rx="3" ry="3" fill="#fff" fill-opacity="0.8" stroke="#c8c8c8" stroke-width="1.3"/><line x1="206.10" y1="538.50" x2="238.20" y2="538.50" stroke="#27a8e1" stroke-width="3.30" stroke-dasharray="12.2 5.3"/><text transform="translate(251.50,544.60) scale(1.110,1)" class="lg">MLP (5NN)</text>
<rect x="525.80" y="525.60" width="141.30" height="27.70" rx="3" ry="3" fill="#fff" fill-opacity="0.8" stroke="#c8c8c8" stroke-width="1.3"/><line x1="532.00" y1="538.55" x2="564.10" y2="538.55" stroke="#27a8e1" stroke-width="3.30" stroke-dasharray="21.1 5.3 3.3 5.3"/><text transform="translate(575.80,544.50) scale(1.110,1)" class="lg">MLP (3NN)</text>
<path d="M200.30,300.00 C201.08,297.38 203.62,294.55 206.50,292.50 C209.38,290.45 212.58,288.83 217.60,287.70 C222.62,286.57 229.20,286.40 236.60,285.70 C244.00,285.00 253.48,284.13 262.00,283.50 C270.52,282.87 280.50,282.38 287.70,281.90 C294.90,281.42 299.82,280.60 305.20,280.60 C310.58,280.60 312.67,280.22 320.00,281.90 C327.33,283.58 339.47,287.47 349.20,290.70 C358.93,293.93 371.10,299.50 378.40,301.30 C385.70,303.10 386.67,303.03 393.00,301.50 C399.33,299.97 409.10,295.12 416.40,292.10 C423.70,289.08 429.52,285.43 436.80,283.40 C444.08,281.37 452.32,280.15 460.10,279.90 C467.88,279.65 475.70,280.83 483.50,281.90 C491.30,282.97 500.55,284.55 506.90,286.30 C513.25,288.05 515.55,290.03 521.60,292.40 C527.65,294.77 531.80,298.40 543.20,300.50 C554.60,302.60 575.53,303.58 590.00,305.00 C604.47,306.42 621.83,307.57 630.00,309.00 C638.17,310.43 636.43,311.47 639.00,313.60 C641.57,315.73 643.13,318.02 645.40,321.80 C647.67,325.58 650.33,331.47 652.60,336.30 C654.87,341.13 657.55,346.87 659.00,350.80 C660.45,354.73 661.15,357.18 661.30,359.90 C661.45,362.62 661.05,364.98 659.90,367.10 C658.75,369.22 656.22,370.93 654.40,372.60 C652.58,374.27 650.27,375.45 649.00,377.10 C647.73,378.75 646.95,380.53 646.80,382.50 C646.65,384.47 647.58,386.78 648.10,388.90 C648.62,391.02 649.90,393.23 649.90,395.20 C649.90,397.17 649.77,399.27 648.10,400.70 C646.43,402.13 643.38,403.05 639.90,403.80 C636.42,404.55 632.03,405.02 627.20,405.20 C622.37,405.38 618.60,405.33 610.90,404.90 C603.20,404.47 590.48,403.57 581.00,402.60 C571.52,401.63 563.00,400.13 554.00,399.10 C545.00,398.07 536.00,397.17 527.00,396.40 C518.00,395.63 509.20,395.23 500.00,394.50 C490.80,393.77 479.90,392.28 471.80,392.00 C463.70,391.72 459.67,391.93 451.40,392.80 C443.13,393.67 431.45,395.83 422.20,397.20 C412.95,398.57 403.20,400.42 395.90,401.00 C388.60,401.58 386.18,401.33 378.40,400.70 C370.62,400.07 357.27,398.45 349.20,397.20 C341.13,395.95 337.33,394.37 330.00,393.20 C322.67,392.03 314.20,390.50 305.20,390.20 C296.20,389.90 285.73,390.47 276.00,391.40 C266.27,392.33 256.53,394.43 246.80,395.80 C237.07,397.17 227.33,398.70 217.60,399.60 C207.87,400.50 198.13,401.35 188.40,401.20 C178.67,401.05 166.75,400.10 159.20,398.70 C151.65,397.30 146.70,395.33 143.10,392.80 C139.50,390.27 138.02,386.50 137.60,383.50 C137.18,380.50 138.47,377.87 140.60,374.80 C142.73,371.73 146.33,368.17 150.40,365.10 C154.47,362.03 159.63,358.83 165.00,356.40 C170.37,353.97 176.75,352.45 182.60,350.50 C188.45,348.55 195.23,346.88 200.10,344.70 C204.97,342.52 209.13,339.85 211.80,337.40 C214.47,334.95 215.62,332.43 216.10,330.00 C216.58,327.57 215.92,325.22 214.70,322.80 C213.48,320.38 210.95,317.93 208.80,315.50 C206.65,313.07 203.22,310.78 201.80,308.20 C200.38,305.62 199.52,302.62 200.30,300.00Z" fill="#b3b3b3" stroke="#505050" stroke-width="1.4" stroke-dasharray="8.8 8.4"/>
<ellipse cx="262" cy="351.7" rx="49.3" ry="29.1" fill="#bfbfbf"/>
<line x1="232.10" y1="359.40" x2="291.40" y2="359.40" stroke="#111" stroke-width="1.25"/>
<line x1="235.50" y1="362.30" x2="288.40" y2="362.30" stroke="#111" stroke-width="1.25"/>
<line x1="241.80" y1="368.30" x2="282.20" y2="368.30" stroke="#111" stroke-width="1.25"/>
<line x1="244.30" y1="370.60" x2="279.40" y2="370.60" stroke="#111" stroke-width="1.25"/>
<path d="M212.60,351.90 C214.13,352.28 218.58,352.93 221.80,354.20 C225.02,355.47 228.82,357.40 231.90,359.50 C234.98,361.60 237.52,364.60 240.30,366.80 C243.08,369.00 244.97,371.12 248.60,372.70 C252.23,374.28 257.62,376.30 262.10,376.30 C266.58,376.30 271.87,374.28 275.50,372.70 C279.13,371.12 281.10,369.00 283.90,366.80 C286.70,364.60 289.22,361.67 292.30,359.50 C295.38,357.33 299.27,355.20 302.40,353.80 C305.53,352.40 309.65,351.55 311.10,351.10" fill="none" stroke="#1a1aee" stroke-width="1.8"/>
<path d="M252.6,311.5 C256.2,313.2 259.3,315.6 260.5,320.2 L261.8,328.8 L263.1,320.2 C264.3,315.6 267.4,313.2 271.0,311.5 Z" fill="#7f5124" stroke="#151515" stroke-width="1.1" stroke-linejoin="round"/>
<path d="M237.3,278.3 L237.3,302.5 A24.7,11.5 0 0 0 286.7,302.5 L286.7,278.3 Z" fill="#c8843f" stroke="#111" stroke-width="1.2"/>
<ellipse cx="262" cy="278.3" rx="24.7" ry="12.1" fill="#c8843f" stroke="#111" stroke-width="1.2"/>
<ellipse cx="262" cy="351.7" rx="49.3" ry="29.1" fill="none" stroke="#2b2bff" stroke-width="1.6" stroke-dasharray="1.4 5.37" stroke-dashoffset="2.46" stroke-linecap="butt"/>
<line x1="261.8" y1="253.6" x2="261.8" y2="277.7" stroke="#222" stroke-width="1.3"/>
<line x1="261.8" y1="257.8" x2="463" y2="257.8" stroke="#333" stroke-width="1.3"/>
<path d="M267.4,253.3 L262.2,257.8 L267.4,262.3" fill="none" stroke="#222" stroke-width="1.2"/>
<path d="M457.6,253.3 L462.8,257.8 L457.6,262.3" fill="none" stroke="#222" stroke-width="1.2"/>
<line x1="463" y1="254.3" x2="463" y2="347.8" stroke="#333" stroke-width="1.3"/>
<text x="347.6" y="250.8" class="dg" style="font-size:17.4px;font-style:italic">X</text><text x="359.6" y="253.1" class="dg" style="font-size:12.6px;font-style:italic">T</text>
<rect x="459" y="352" width="7.9" height="7.9" fill="none" stroke="#f21a1a" stroke-width="1.3"/>
<line x1="466.9" y1="352" x2="544.2" y2="262.5" stroke="#f21a1a" stroke-width="1.4"/>
<line x1="466.9" y1="359.9" x2="544.2" y2="356.8" stroke="#f21a1a" stroke-width="1.4"/>
<rect x="544.2" y="262.5" width="94.3" height="94.3" fill="#fff" stroke="#f21a1a" stroke-width="1.6"/>
<g stroke="#7a7a7a" stroke-width="1">
<line x1="555.30" y1="271.10" x2="555.30" y2="280.50"/>
<line x1="571.20" y1="271.10" x2="571.20" y2="280.50"/>
<line x1="587.10" y1="271.10" x2="587.10" y2="280.50"/>
<line x1="603.00" y1="271.10" x2="603.00" y2="280.50"/>
<line x1="618.90" y1="271.10" x2="618.90" y2="280.50"/>
<line x1="634.80" y1="271.10" x2="634.80" y2="280.50"/>
<line x1="555.30" y1="280.50" x2="547.35" y2="285.00"/>
<line x1="555.30" y1="280.50" x2="563.25" y2="285.00"/>
<line x1="571.20" y1="280.50" x2="563.25" y2="285.00"/>
<line x1="571.20" y1="280.50" x2="579.15" y2="285.00"/>
<line x1="587.10" y1="280.50" x2="579.15" y2="285.00"/>
<line x1="587.10" y1="280.50" x2="595.05" y2="285.00"/>
<line x1="603.00" y1="280.50" x2="595.05" y2="285.00"/>
<line x1="603.00" y1="280.50" x2="610.95" y2="285.00"/>
<line x1="618.90" y1="280.50" x2="610.95" y2="285.00"/>
<line x1="618.90" y1="280.50" x2="626.85" y2="285.00"/>
<line x1="634.80" y1="280.50" x2="626.85" y2="285.00"/>
<line x1="547.35" y1="285.00" x2="547.35" y2="294.10"/>
<line x1="563.25" y1="285.00" x2="563.25" y2="294.10"/>
<line x1="579.15" y1="285.00" x2="580.75" y2="293.80"/>
<line x1="595.05" y1="285.00" x2="592.95" y2="293.80"/>
<line x1="610.95" y1="285.00" x2="610.95" y2="294.10"/>
<line x1="626.85" y1="285.00" x2="626.85" y2="294.10"/>
<line x1="547.35" y1="294.10" x2="555.30" y2="298.60"/>
<line x1="563.25" y1="294.10" x2="555.30" y2="298.60"/>
<line x1="563.25" y1="294.10" x2="572.90" y2="298.60"/>
<line x1="580.75" y1="293.80" x2="572.90" y2="298.60"/>
<line x1="592.95" y1="293.80" x2="601.20" y2="298.60"/>
<line x1="610.95" y1="294.10" x2="601.20" y2="298.60"/>
<line x1="610.95" y1="294.10" x2="618.90" y2="298.60"/>
<line x1="626.85" y1="294.10" x2="618.90" y2="298.60"/>
<line x1="626.85" y1="294.10" x2="634.80" y2="298.60"/>
<line x1="555.30" y1="298.60" x2="555.30" y2="307.90"/>
<line x1="572.90" y1="298.60" x2="572.90" y2="307.90"/>
<line x1="601.20" y1="298.60" x2="601.20" y2="307.90"/>
<line x1="618.90" y1="298.60" x2="618.90" y2="307.90"/>
<line x1="634.80" y1="298.60" x2="634.80" y2="307.90"/>
<line x1="555.30" y1="307.90" x2="547.35" y2="312.40"/>
<line x1="555.30" y1="307.90" x2="563.25" y2="312.40"/>
<line x1="572.90" y1="307.90" x2="563.25" y2="312.40"/>
<line x1="572.90" y1="307.90" x2="581.15" y2="312.70"/>
<line x1="601.20" y1="307.90" x2="592.95" y2="312.70"/>
<line x1="601.20" y1="307.90" x2="610.95" y2="312.40"/>
<line x1="618.90" y1="307.90" x2="610.95" y2="312.40"/>
<line x1="618.90" y1="307.90" x2="626.85" y2="312.40"/>
<line x1="634.80" y1="307.90" x2="626.85" y2="312.40"/>
<line x1="547.35" y1="312.40" x2="547.35" y2="321.60"/>
<line x1="563.25" y1="312.40" x2="563.25" y2="321.60"/>
<line x1="581.15" y1="312.70" x2="579.15" y2="321.60"/>
<line x1="592.95" y1="312.70" x2="595.05" y2="321.60"/>
<line x1="610.95" y1="312.40" x2="610.95" y2="321.60"/>
<line x1="626.85" y1="312.40" x2="626.85" y2="321.60"/>
<line x1="547.35" y1="321.60" x2="555.30" y2="326.20"/>
<line x1="563.25" y1="321.60" x2="555.30" y2="326.20"/>
<line x1="563.25" y1="321.60" x2="571.20" y2="326.20"/>
<line x1="579.15" y1="321.60" x2="571.20" y2="326.20"/>
<line x1="579.15" y1="321.60" x2="587.10" y2="326.20"/>
<line x1="595.05" y1="321.60" x2="587.10" y2="326.20"/>
<line x1="595.05" y1="321.60" x2="603.00" y2="326.20"/>
<line x1="610.95" y1="321.60" x2="603.00" y2="326.20"/>
<line x1="610.95" y1="321.60" x2="618.90" y2="326.20"/>
<line x1="626.85" y1="321.60" x2="618.90" y2="326.20"/>
<line x1="626.85" y1="321.60" x2="634.80" y2="326.20"/>
<line x1="555.30" y1="326.20" x2="555.30" y2="335.70"/>
<line x1="571.20" y1="326.20" x2="571.20" y2="335.70"/>
<line x1="587.10" y1="326.20" x2="587.10" y2="335.70"/>
<line x1="603.00" y1="326.20" x2="603.00" y2="335.70"/>
<line x1="618.90" y1="326.20" x2="618.90" y2="335.70"/>
<line x1="634.80" y1="326.20" x2="634.80" y2="335.70"/>
<line x1="555.30" y1="335.70" x2="547.35" y2="340.20"/>
<line x1="555.30" y1="335.70" x2="563.25" y2="340.20"/>
<line x1="571.20" y1="335.70" x2="563.25" y2="340.20"/>
<line x1="571.20" y1="335.70" x2="579.15" y2="340.20"/>
<line x1="587.10" y1="335.70" x2="579.15" y2="340.20"/>
<line x1="587.10" y1="335.70" x2="595.05" y2="340.20"/>
<line x1="603.00" y1="335.70" x2="595.05" y2="340.20"/>
<line x1="603.00" y1="335.70" x2="610.95" y2="340.20"/>
<line x1="618.90" y1="335.70" x2="610.95" y2="340.20"/>
<line x1="618.90" y1="335.70" x2="626.85" y2="340.20"/>
<line x1="634.80" y1="335.70" x2="626.85" y2="340.20"/>
<line x1="547.35" y1="340.20" x2="547.35" y2="349.50"/>
<line x1="563.25" y1="340.20" x2="563.25" y2="349.50"/>
<line x1="579.15" y1="340.20" x2="579.15" y2="349.50"/>
<line x1="595.05" y1="340.20" x2="595.05" y2="349.50"/>
<line x1="610.95" y1="340.20" x2="610.95" y2="349.50"/>
<line x1="626.85" y1="340.20" x2="626.85" y2="349.50"/>
<line x1="580.75" y1="293.80" x2="592.95" y2="293.80"/>
<line x1="581.15" y1="312.70" x2="592.95" y2="312.70"/>
</g>
<g>
<circle cx="555.30" cy="271.10" r="2.5" fill="#000"/><circle cx="555.00" cy="270.70" r="0.8" fill="#999"/>
<circle cx="571.20" cy="271.10" r="2.5" fill="#000"/><circle cx="570.90" cy="270.70" r="0.8" fill="#999"/>
<circle cx="587.10" cy="271.10" r="2.5" fill="#000"/><circle cx="586.80" cy="270.70" r="0.8" fill="#999"/>
<circle cx="603.00" cy="271.10" r="2.5" fill="#000"/><circle cx="602.70" cy="270.70" r="0.8" fill="#999"/>
<circle cx="618.90" cy="271.10" r="2.5" fill="#000"/><circle cx="618.60" cy="270.70" r="0.8" fill="#999"/>
<circle cx="634.80" cy="271.10" r="2.5" fill="#000"/><circle cx="634.50" cy="270.70" r="0.8" fill="#999"/>
<circle cx="555.30" cy="280.50" r="2.5" fill="#000"/><circle cx="555.00" cy="280.10" r="0.8" fill="#999"/>
<circle cx="571.20" cy="280.50" r="2.5" fill="#000"/><circle cx="570.90" cy="280.10" r="0.8" fill="#999"/>
<circle cx="587.10" cy="280.50" r="2.5" fill="#000"/><circle cx="586.80" cy="280.10" r="0.8" fill="#999"/>
<circle cx="603.00" cy="280.50" r="2.5" fill="#000"/><circle cx="602.70" cy="280.10" r="0.8" fill="#999"/>
<circle cx="618.90" cy="280.50" r="2.5" fill="#000"/><circle cx="618.60" cy="280.10" r="0.8" fill="#999"/>
<circle cx="634.80" cy="280.50" r="2.5" fill="#000"/><circle cx="634.50" cy="280.10" r="0.8" fill="#999"/>
<circle cx="547.35" cy="285.00" r="2.5" fill="#000"/><circle cx="547.05" cy="284.60" r="0.8" fill="#999"/>
<circle cx="563.25" cy="285.00" r="2.5" fill="#000"/><circle cx="562.95" cy="284.60" r="0.8" fill="#999"/>
<circle cx="579.15" cy="285.00" r="2.5" fill="#000"/><circle cx="578.85" cy="284.60" r="0.8" fill="#999"/>
<circle cx="595.05" cy="285.00" r="2.5" fill="#000"/><circle cx="594.75" cy="284.60" r="0.8" fill="#999"/>
<circle cx="610.95" cy="285.00" r="2.5" fill="#000"/><circle cx="610.65" cy="284.60" r="0.8" fill="#999"/>
<circle cx="626.85" cy="285.00" r="2.5" fill="#000"/><circle cx="626.55" cy="284.60" r="0.8" fill="#999"/>
<circle cx="547.35" cy="294.10" r="2.5" fill="#000"/><circle cx="547.05" cy="293.70" r="0.8" fill="#999"/>
<circle cx="563.25" cy="294.10" r="2.5" fill="#000"/><circle cx="562.95" cy="293.70" r="0.8" fill="#999"/>
<circle cx="580.75" cy="293.80" r="2.5" fill="#000"/><circle cx="580.45" cy="293.40" r="0.8" fill="#999"/>
<circle cx="592.95" cy="293.80" r="2.5" fill="#000"/><circle cx="592.65" cy="293.40" r="0.8" fill="#999"/>
<circle cx="610.95" cy="294.10" r="2.5" fill="#000"/><circle cx="610.65" cy="293.70" r="0.8" fill="#999"/>
<circle cx="626.85" cy="294.10" r="2.5" fill="#000"/><circle cx="626.55" cy="293.70" r="0.8" fill="#999"/>
<circle cx="555.30" cy="298.60" r="2.5" fill="#000"/><circle cx="555.00" cy="298.20" r="0.8" fill="#999"/>
<circle cx="572.90" cy="298.60" r="2.5" fill="#000"/><circle cx="572.60" cy="298.20" r="0.8" fill="#999"/>
<circle cx="601.20" cy="298.60" r="2.5" fill="#000"/><circle cx="600.90" cy="298.20" r="0.8" fill="#999"/>
<circle cx="618.90" cy="298.60" r="2.5" fill="#000"/><circle cx="618.60" cy="298.20" r="0.8" fill="#999"/>
<circle cx="634.80" cy="298.60" r="2.5" fill="#000"/><circle cx="634.50" cy="298.20" r="0.8" fill="#999"/>
<circle cx="555.30" cy="307.90" r="2.5" fill="#000"/><circle cx="555.00" cy="307.50" r="0.8" fill="#999"/>
<circle cx="572.90" cy="307.90" r="2.5" fill="#000"/><circle cx="572.60" cy="307.50" r="0.8" fill="#999"/>
<circle cx="601.20" cy="307.90" r="2.5" fill="#000"/><circle cx="600.90" cy="307.50" r="0.8" fill="#999"/>
<circle cx="618.90" cy="307.90" r="2.5" fill="#000"/><circle cx="618.60" cy="307.50" r="0.8" fill="#999"/>
<circle cx="634.80" cy="307.90" r="2.5" fill="#000"/><circle cx="634.50" cy="307.50" r="0.8" fill="#999"/>
<circle cx="547.35" cy="312.40" r="2.5" fill="#000"/><circle cx="547.05" cy="312.00" r="0.8" fill="#999"/>
<circle cx="563.25" cy="312.40" r="2.5" fill="#000"/><circle cx="562.95" cy="312.00" r="0.8" fill="#999"/>
<circle cx="581.15" cy="312.70" r="2.5" fill="#000"/><circle cx="580.85" cy="312.30" r="0.8" fill="#999"/>
<circle cx="592.95" cy="312.70" r="2.5" fill="#000"/><circle cx="592.65" cy="312.30" r="0.8" fill="#999"/>
<circle cx="610.95" cy="312.40" r="2.5" fill="#000"/><circle cx="610.65" cy="312.00" r="0.8" fill="#999"/>
<circle cx="626.85" cy="312.40" r="2.5" fill="#000"/><circle cx="626.55" cy="312.00" r="0.8" fill="#999"/>
<circle cx="547.35" cy="321.60" r="2.5" fill="#000"/><circle cx="547.05" cy="321.20" r="0.8" fill="#999"/>
<circle cx="563.25" cy="321.60" r="2.5" fill="#000"/><circle cx="562.95" cy="321.20" r="0.8" fill="#999"/>
<circle cx="579.15" cy="321.60" r="2.5" fill="#000"/><circle cx="578.85" cy="321.20" r="0.8" fill="#999"/>
<circle cx="595.05" cy="321.60" r="2.5" fill="#000"/><circle cx="594.75" cy="321.20" r="0.8" fill="#999"/>
<circle cx="610.95" cy="321.60" r="2.5" fill="#000"/><circle cx="610.65" cy="321.20" r="0.8" fill="#999"/>
<circle cx="626.85" cy="321.60" r="2.5" fill="#000"/><circle cx="626.55" cy="321.20" r="0.8" fill="#999"/>
<circle cx="555.30" cy="326.20" r="2.5" fill="#000"/><circle cx="555.00" cy="325.80" r="0.8" fill="#999"/>
<circle cx="571.20" cy="326.20" r="2.5" fill="#000"/><circle cx="570.90" cy="325.80" r="0.8" fill="#999"/>
<circle cx="587.10" cy="326.20" r="2.5" fill="#000"/><circle cx="586.80" cy="325.80" r="0.8" fill="#999"/>
<circle cx="603.00" cy="326.20" r="2.5" fill="#000"/><circle cx="602.70" cy="325.80" r="0.8" fill="#999"/>
<circle cx="618.90" cy="326.20" r="2.5" fill="#000"/><circle cx="618.60" cy="325.80" r="0.8" fill="#999"/>
<circle cx="634.80" cy="326.20" r="2.5" fill="#000"/><circle cx="634.50" cy="325.80" r="0.8" fill="#999"/>
<circle cx="555.30" cy="335.70" r="2.5" fill="#000"/><circle cx="555.00" cy="335.30" r="0.8" fill="#999"/>
<circle cx="571.20" cy="335.70" r="2.5" fill="#000"/><circle cx="570.90" cy="335.30" r="0.8" fill="#999"/>
<circle cx="587.10" cy="335.70" r="2.5" fill="#000"/><circle cx="586.80" cy="335.30" r="0.8" fill="#999"/>
<circle cx="603.00" cy="335.70" r="2.5" fill="#000"/><circle cx="602.70" cy="335.30" r="0.8" fill="#999"/>
<circle cx="618.90" cy="335.70" r="2.5" fill="#000"/><circle cx="618.60" cy="335.30" r="0.8" fill="#999"/>
<circle cx="634.80" cy="335.70" r="2.5" fill="#000"/><circle cx="634.50" cy="335.30" r="0.8" fill="#999"/>
<circle cx="547.35" cy="340.20" r="2.5" fill="#000"/><circle cx="547.05" cy="339.80" r="0.8" fill="#999"/>
<circle cx="563.25" cy="340.20" r="2.5" fill="#000"/><circle cx="562.95" cy="339.80" r="0.8" fill="#999"/>
<circle cx="579.15" cy="340.20" r="2.5" fill="#000"/><circle cx="578.85" cy="339.80" r="0.8" fill="#999"/>
<circle cx="595.05" cy="340.20" r="2.5" fill="#000"/><circle cx="594.75" cy="339.80" r="0.8" fill="#999"/>
<circle cx="610.95" cy="340.20" r="2.5" fill="#000"/><circle cx="610.65" cy="339.80" r="0.8" fill="#999"/>
<circle cx="626.85" cy="340.20" r="2.5" fill="#000"/><circle cx="626.55" cy="339.80" r="0.8" fill="#999"/>
<circle cx="547.35" cy="349.50" r="2.5" fill="#000"/><circle cx="547.05" cy="349.10" r="0.8" fill="#999"/>
<circle cx="563.25" cy="349.50" r="2.5" fill="#000"/><circle cx="562.95" cy="349.10" r="0.8" fill="#999"/>
<circle cx="579.15" cy="349.50" r="2.5" fill="#000"/><circle cx="578.85" cy="349.10" r="0.8" fill="#999"/>
<circle cx="595.05" cy="349.50" r="2.5" fill="#000"/><circle cx="594.75" cy="349.10" r="0.8" fill="#999"/>
<circle cx="610.95" cy="349.50" r="2.5" fill="#000"/><circle cx="610.65" cy="349.10" r="0.8" fill="#999"/>
<circle cx="626.85" cy="349.50" r="2.5" fill="#000"/><circle cx="626.55" cy="349.10" r="0.8" fill="#999"/>
</g>
<rect x="61.5" y="286.8" width="122" height="54.4" rx="3" ry="3" fill="#fff" stroke="#c8c8c8" stroke-width="1.3"/>
<line x1="67.1" y1="300.4" x2="103.4" y2="300.4" stroke="#bc6cc9" stroke-width="3"/>
<line x1="68.2" y1="325.4" x2="103.4" y2="325.4" stroke="#c0c0c0" stroke-width="2.4" stroke-dasharray="2.4 5.0"/>
<text transform="translate(115.0,306.7) scale(1.08,1)" class="lg">Wannier</text>
<text transform="translate(113.4,330.7) scale(1.12,1)" class="lg">Pristine</text>
</svg></body></html>
